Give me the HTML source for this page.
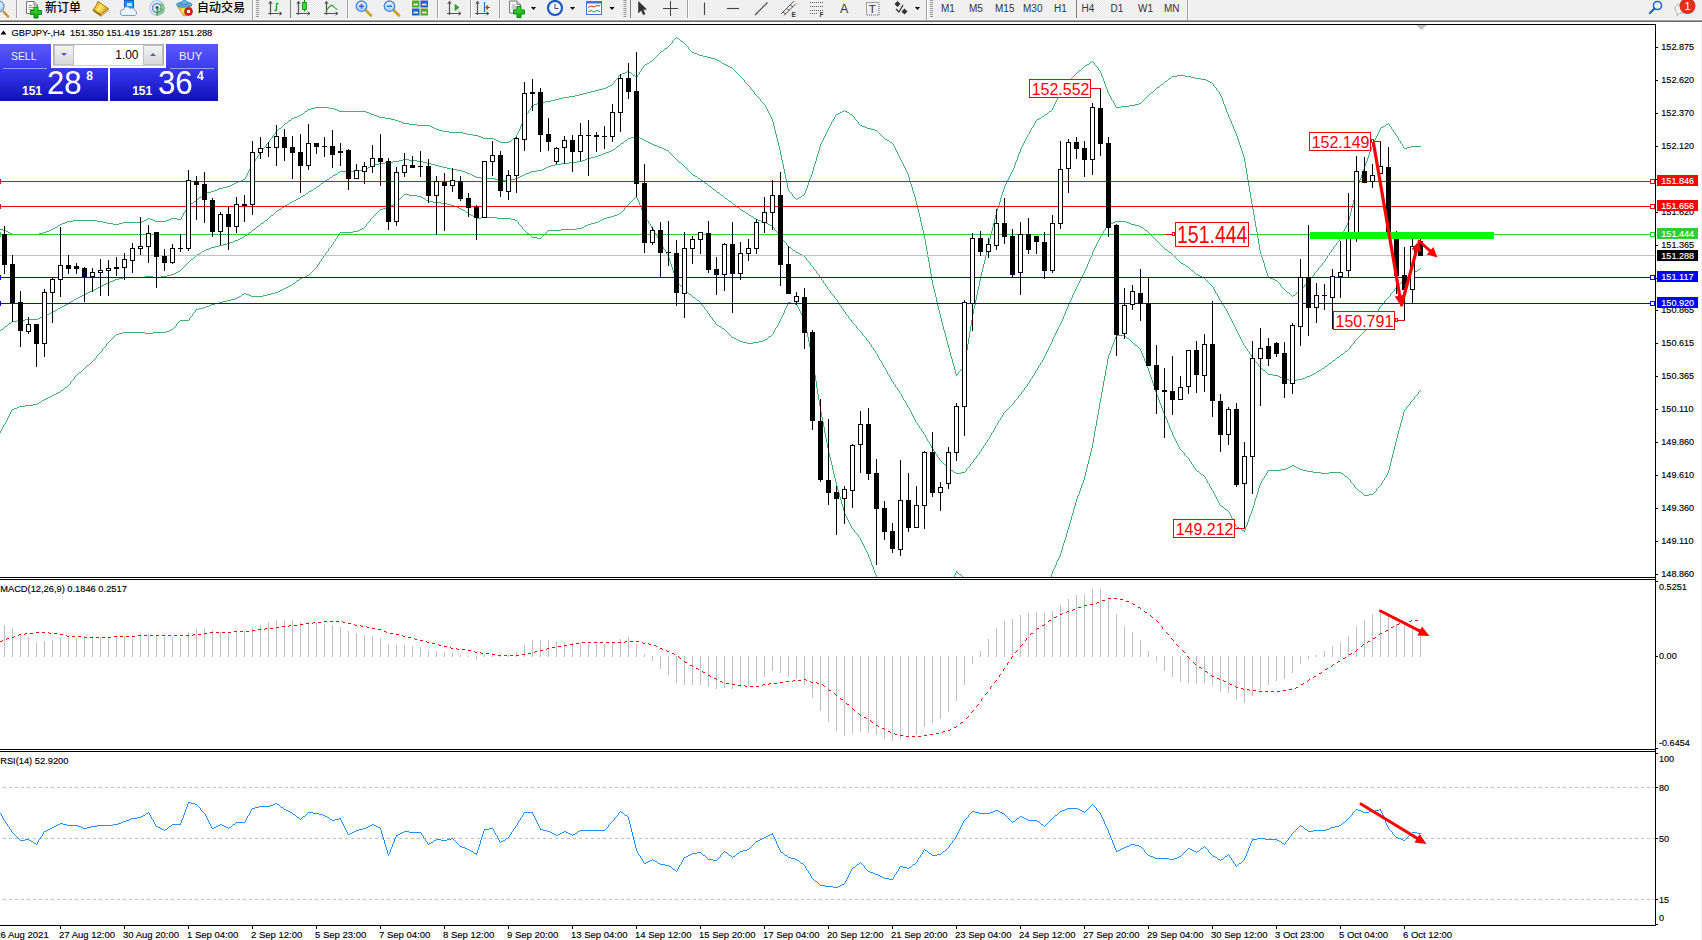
<!DOCTYPE html>
<html lang="zh"><head><meta charset="utf-8"><title>GBPJPY-,H4</title>
<style>
html,body{margin:0;padding:0;background:#fff;}
body{width:1702px;height:940px;position:relative;overflow:hidden;font-family:"Liberation Sans","Noto Sans CJK SC",sans-serif;}
#tb{position:absolute;left:0;top:0;width:1702px;height:20px;background:#f0f0f0;}
#tbl1{position:absolute;left:0;top:20px;width:1702px;height:1px;background:#a0a0a0;}
#tbl2{position:absolute;left:0;top:21px;width:1702px;height:1px;background:#696969;}
#tbl0{position:absolute;left:0;top:19px;width:1702px;height:1px;background:#f8f8f8;}
#redge{position:absolute;left:1701px;top:22px;width:1px;height:918px;background:#f0f0f0;}
.tt{position:absolute;top:0;font-size:12px;line-height:14px;color:#000;white-space:nowrap;}
.tf{position:absolute;top:3px;font-size:10.5px;line-height:12px;color:#222;white-space:nowrap;}
.sep{position:absolute;top:1px;width:1px;height:17px;background:#a0a0a0;}
.grip{position:absolute;top:2px;width:3px;height:16px;background:repeating-linear-gradient(#a8a8a8 0 1px,#f8f8f8 1px 2px);}
</style></head><body>
<svg width="1702" height="940" viewBox="0 0 1702 940" style="position:absolute;left:0;top:0"><defs><clipPath id="cmain"><rect x="0" y="25" width="1655" height="552"/></clipPath></defs>
<g clip-path="url(#cmain)" shape-rendering="crispEdges">
<path d="M1346.5 225v2M966.5 350v6M1255.5 221v6M993.5 223v4M1248.5 180v6M750.5 87v2M914.5 194v3M1249.5 186v6M1363.5 169v3M971.5 320v6M984.5 260v4M917.5 205v4M782.5 160v4M828.5 128v2M1371.5 147v3M927.5 251v6M253.5 162v2M816.5 157v4M1245.5 162v6M975.5 300v5M988.5 243v5M974.5 305v4M249.5 169v2M1004.5 186v3M1264.5 263v4M954.5 366v4M788.5 188v3M1231.5 121v3M778.5 142v4M1110.5 96v2M523.5 120v2M1362.5 172v3M187.5 206v2M965.5 356v6M1257.5 232v6M1341.5 235v2M895.5 148v2M1250.5 192v6M1241.5 148v3M970.5 326v6M1400.5 141v2M1251.5 198v6M183.5 213v2M1244.5 157v5M858.5 122v2M815.5 161v3M785.5 174v5M940.5 314v4M787.5 183v5M920.5 217v5M973.5 309v5M996.5 211v4M248.5 171v2M979.5 281v5M1353.5 200v4M913.5 191v3M926.5 245v6M1361.5 175v3M1012.5 170v2M1219.5 92v2M936.5 297v5M806.5 188v2M1340.5 237v2M991.5 231v4M1368.5 155v3M1259.5 244v6M814.5 164v3M519.5 129v2M182.5 215v2M1223.5 101v3M1260.5 250v4M1253.5 209v6M776.5 134v4M777.5 138v4M968.5 338v6M1263.5 260v3M953.5 363v3M1229.5 117v2M995.5 215v4M1331.5 250v2M1230.5 119v2M1365.5 163v3M1108.5 92v2M986.5 252v4M641.5 69v2M259.5 153v2M1109.5 94v2M1236.5 133v3M932.5 280v5M744.5 80v2M925.5 239v6M945.5 333v4M275.5 132v2M818.5 151v3M946.5 337v4M894.5 146v2M637.5 75v2M897.5 152v2M1240.5 145v3M1035.5 121v2M773.5 122v4M918.5 209v4M1389.5 124v2M783.5 164v5M990.5 235v4M1359.5 180v3M805.5 190v3M1094.5 63v2M1018.5 154v3M928.5 257v5M981.5 272v4M1007.5 180v2M1031.5 128v2M618.5 76v2M939.5 310v4M941.5 318v4M1356.5 189v3M911.5 184v3M526.5 114v2M994.5 219v4M1015.5 162v3M1364.5 166v3M817.5 154v3M769.5 113v2M977.5 290v5M1224.5 104v2M1351.5 208v4M1034.5 123v2M269.5 140v2M998.5 205v3M1103.5 78v3M825.5 134v2M1006.5 182v2M1228.5 114v3M930.5 268v6M1030.5 130v2M921.5 222v4M931.5 274v6M1107.5 89v3M812.5 171v3M1355.5 192v4M924.5 234v5M525.5 116v2M1235.5 131v2M1026.5 137v2M1213.5 84v2M1391.5 127v2M1022.5 145v2M937.5 302v4M997.5 208v3M903.5 164v2M824.5 136v2M1379.5 130v2M910.5 181v3M643.5 66v2M1254.5 215v6M820.5 144v3M1267.5 273v3M245.5 177v2M933.5 285v4M1268.5 276v2M1025.5 139v2M767.5 109v2M992.5 227v4M947.5 341v4M949.5 348v4M983.5 264v4M1021.5 147v2M950.5 352v4M774.5 126v4M1102.5 76v2M1378.5 132v2M942.5 322v4M943.5 326v4M819.5 147v4M1374.5 140v2M1011.5 172v2M1000.5 198v4M964.5 362v4M1393.5 130v2M518.5 131v2M1216.5 88v2M1098.5 68v2M969.5 332v6M531.5 106v2M905.5 168v2M1226.5 109v3M1348.5 220v3M1246.5 168v6M1063.5 88v2M833.5 119v2M1247.5 174v6M780.5 150v5M1266.5 270v3M765.5 105v2M1059.5 94v2M1373.5 142v2M829.5 126v2M1372.5 144v3M766.5 107v2M1352.5 204v4M1055.5 102v2M1403.5 146v2M530.5 108v2M262.5 149v2M1347.5 223v2M985.5 256v4M915.5 197v4M1058.5 96v2M522.5 122v2M1395.5 133v2M1054.5 104v2M1252.5 204v5M989.5 239v4M980.5 276v5M1232.5 124v2M944.5 330v3M1014.5 165v3M1280.5 284v2M1238.5 139v3M808.5 182v3M1258.5 238v6M896.5 150v2M899.5 156v2M1053.5 106v2M1350.5 212v4M1367.5 158v3M781.5 155v5M1375.5 138v2M1220.5 94v2M1325.5 259v2M1349.5 216v4M1358.5 183v3M831.5 122v2M1237.5 136v3M898.5 154v2M272.5 136v2M827.5 130v2M919.5 213v4M982.5 268v4M929.5 262v6M1357.5 186v3M1344.5 229v2M255.5 159v2M186.5 208v2M1243.5 154v3M1225.5 106v3M251.5 165v2M1104.5 81v3M786.5 179v4M922.5 226v4M247.5 173v2M1111.5 98v2M1256.5 227v5M521.5 124v2M1343.5 231v2M976.5 295v5M1339.5 239v2M250.5 167v2M907.5 172v2M1265.5 267v3M967.5 344v6M246.5 175v2M768.5 111v2M520.5 126v3M1242.5 151v3M1318.5 268v2M987.5 248v4M1333.5 247v2M792.5 194v2M639.5 72v2M1329.5 253v2M916.5 201v4M257.5 156v2M854.5 117v2M1397.5 136v2M1020.5 149v3M906.5 170v2M1261.5 254v3M1233.5 126v3M978.5 286v4M999.5 202v3M1304.5 285v2M1003.5 189v3M912.5 187v4M935.5 293v4M688.5 47v2M1222.5 98v3M952.5 359v4M1101.5 73v3M972.5 314v6M1002.5 192v3M1342.5 233v2M1010.5 174v2M900.5 158v2M517.5 133v2M1354.5 196v4M1001.5 195v3M1013.5 168v2M934.5 289v4M807.5 185v3M1009.5 176v2M1322.5 263v2M951.5 356v3M775.5 130v4M516.5 135v2M923.5 230v4M1366.5 161v2M1017.5 157v3M1113.5 101v2M760.5 99v2M1370.5 150v2M784.5 169v5M1008.5 178v2M823.5 138v2M909.5 177v4M956.5 374v2M770.5 115v2M826.5 132v2M1369.5 152v3M822.5 140v2M1027.5 135v2M1115.5 105v2M1023.5 143v2M185.5 210v2M1360.5 178v2M672.5 41v2M1380.5 128v2M181.5 217v2M908.5 174v3M1262.5 257v3M821.5 142v2M955.5 370v4M754.5 92v2M893.5 144v2M1327.5 256v2M1239.5 142v3M948.5 345v3M772.5 119v3M266.5 144v2M1061.5 91v2M1057.5 98v2M1310.5 278v2M1398.5 138v2M1033.5 125v2M1227.5 112v2M1005.5 184v2M528.5 111v2M1106.5 87v2M1029.5 132v2M1234.5 129v2M811.5 174v3M524.5 118v2M1056.5 100v2M902.5 162v2M1016.5 160v2M810.5 177v2M1024.5 141v2M1105.5 84v3M1377.5 134v2M809.5 179v3M901.5 160v2M938.5 306v4M1019.5 152v2M813.5 167v4M779.5 146v4M1376.5 136v2M1221.5 96v2M1402.5 144v2M1100.5 71v2M804.5 193v2M1065.5 85v2M958.5 372v2M1314.5 273v2M1114.5 103v2M1345.5 227v2M771.5 117v2M1052.5 108v2M835.5 115v2M1067.5 82v2M1336.5 243v2M834.5 117v2M830.5 124v2M904.5 166v2M614.5 81v2M962.5 367v2M664 49.5h1M689 49.5h1M282 126.5h1M430 126.5h2M862 126.5h3M1383 126.5h2M1390 126.5h1M303 113.5h1M369 113.5h2M527 113.5h1M838 113.5h2M849 113.5h1M1047 113.5h1M653 59.5h1M715 59.5h2M284 124.5h1M409 124.5h8M859 124.5h1M1386 124.5h2M315 107.5h14M1116 107.5h5M613 83.5h1M746 83.5h1M1163 83.5h1M1212 83.5h1M283 125.5h1M417 125.5h13M860 125.5h2M1385 125.5h1M291 119.5h1M391 119.5h4M855 119.5h1M1037 119.5h2M60 224.5h2M113 224.5h6M745 82.5h1M1164 82.5h1M1210 82.5h2M188 205.5h1M668 46.5h1M687 46.5h1M305 111.5h2M339 111.5h27M842 111.5h2M845 111.5h2M1049 111.5h2M219 188.5h4M297 116.5h2M377 116.5h2M853 116.5h1M1042 116.5h2M146 219.5h2M150 219.5h3M169 219.5h2M177 219.5h4M199 197.5h2M794 197.5h1M799 197.5h2M591 91.5h4M753 91.5h1M1153 91.5h1M1218 91.5h1M307 110.5h1M337 110.5h2M529 110.5h1M844 110.5h1M1051 110.5h1M478 136.5h3M882 136.5h1M65 222.5h2M103 222.5h4M123 222.5h19M636 77.5h1M741 77.5h1M1072 77.5h1M1171 77.5h1M1191 77.5h4M1121 106.5h8M264 147.5h1M1407 147.5h4M1290 294.5h1M1295 294.5h1M67 221.5h6M97 221.5h6M142 221.5h2M155 221.5h11M616 79.5h1M743 79.5h1M1070 79.5h1M1168 79.5h1M1201 79.5h5M734 70.5h1M1079 70.5h2M1099 70.5h1M289 120.5h2M395 120.5h3M856 120.5h1M1036 120.5h1M301 114.5h2M371 114.5h3M836 114.5h2M850 114.5h2M1045 114.5h2M270 139.5h1M494 139.5h2M512 139.5h1M885 139.5h2M304 112.5h1M366 112.5h3M840 112.5h2M847 112.5h2M1048 112.5h1M1291 295.5h1M1293 295.5h2M73 220.5h24M144 220.5h2M153 220.5h2M166 220.5h3M615 80.5h1M1069 80.5h1M1167 80.5h1M1206 80.5h2M58 225.5h2M265 146.5h1M1411 146.5h10M198 198.5h1M795 198.5h1M797 198.5h2M1282 287.5h1M1303 287.5h1M3 230.5h3M49 230.5h2M559 98.5h4M759 98.5h1M1145 98.5h1M603 88.5h3M1156 88.5h1M0 229.5h3M51 229.5h2M579 94.5h4M755 94.5h1M1149 94.5h1M241 180.5h2M644 65.5h1M726 65.5h2M1085 65.5h2M1095 65.5h1M1068 81.5h1M1165 81.5h2M1208 81.5h2M197 199.5h1M796 199.5h1M285 123.5h2M403 123.5h6M1388 123.5h1M610 85.5h2M748 85.5h1M1160 85.5h1M12 234.5h27M539 102.5h6M762 102.5h1M1141 102.5h1M311 108.5h4M329 108.5h5M660 52.5h1M692 52.5h2M288 121.5h1M398 121.5h3M832 121.5h1M857 121.5h1M449 132.5h14M878 132.5h1M1394 132.5h1M537 103.5h2M763 103.5h1M1139 103.5h2M627 71.5h2M640 71.5h1M735 71.5h1M1078 71.5h1M148 218.5h2M171 218.5h6M1287 292.5h2M1297 292.5h2M276 131.5h1M443 131.5h6M877 131.5h1M545 101.5h6M761 101.5h1M1142 101.5h1M267 143.5h1M892 143.5h1M1401 143.5h1M273 135.5h1M473 135.5h5M881 135.5h1M1396 135.5h1M563 97.5h6M758 97.5h1M1146 97.5h1M263 148.5h1M1404 148.5h3M635 76.5h1M740 76.5h1M1073 76.5h1M1172 76.5h5M1185 76.5h6M658 54.5h1M697 54.5h2M10 233.5h2M39 233.5h4M619 75.5h1M633 75.5h2M739 75.5h1M1074 75.5h1M1177 75.5h8M655 57.5h1M707 57.5h4M1279 283.5h1M1306 283.5h1M232 184.5h2M281 127.5h1M432 127.5h2M865 127.5h2M1032 127.5h1M1381 127.5h2M663 50.5h1M690 50.5h1M194 201.5h2M227 186.5h3M204 193.5h3M791 193.5h1M6 231.5h2M46 231.5h3M1334 246.5h1M534 104.5h3M764 104.5h1M1135 104.5h4M8 232.5h2M43 232.5h3M287 122.5h1M401 122.5h2M496 140.5h2M511 140.5h1M887 140.5h2M1399 140.5h1M1286 291.5h1M1299 291.5h1M279 128.5h2M434 128.5h2M867 128.5h4M608 86.5h2M749 86.5h1M1159 86.5h1M1214 86.5h1M243 179.5h2M622 73.5h3M631 73.5h1M737 73.5h1M1076 73.5h1M657 55.5h1M699 55.5h4M961 369.5h1M612 84.5h1M747 84.5h1M1066 84.5h1M1161 84.5h2M299 115.5h2M374 115.5h3M852 115.5h1M1044 115.5h1M278 129.5h1M436 129.5h3M871 129.5h4M1392 129.5h1M308 109.5h3M334 109.5h3M217 189.5h2M645 64.5h2M724 64.5h2M1087 64.5h2M681 41.5h2M575 95.5h4M756 95.5h1M1148 95.5h1M294 117.5h3M379 117.5h6M1041 117.5h1M656 56.5h1M703 56.5h4M268 142.5h1M500 142.5h9M890 142.5h2M650 61.5h2M719 61.5h2M1092 61.5h1M555 99.5h4M1144 99.5h1M271 138.5h1M483 138.5h11M513 138.5h2M884 138.5h1M261 151.5h1M292 118.5h2M385 118.5h6M1039 118.5h2M274 134.5h1M467 134.5h6M880 134.5h1M1028 134.5h1M481 137.5h2M515 137.5h1M883 137.5h1M463 133.5h4M879 133.5h1M1278 282.5h1M1307 282.5h1M1337 242.5h1M670 44.5h1M685 44.5h1M659 53.5h1M694 53.5h3M202 195.5h1M802 195.5h2M587 92.5h4M1151 92.5h2M1270 278.5h3M617 78.5h1M742 78.5h1M1071 78.5h1M1169 78.5h2M1195 78.5h6M238 181.5h3M252 164.5h1M211 191.5h3M789 191.5h1M595 90.5h4M752 90.5h1M1062 90.5h1M1154 90.5h1M1217 90.5h1M1275 280.5h2M1309 280.5h1M620 74.5h2M632 74.5h1M638 74.5h1M738 74.5h1M1075 74.5h1M654 58.5h1M711 58.5h4M277 130.5h1M439 130.5h4M875 130.5h2M57 226.5h1M673 40.5h1M680 40.5h1M675 38.5h1M677 38.5h2M1328 255.5h1M728 66.5h2M1084 66.5h1M1096 66.5h1M1313 275.5h1M583 93.5h4M1060 93.5h1M1150 93.5h1M730 67.5h2M1083 67.5h1M1097 67.5h1M647 63.5h2M722 63.5h2M1089 63.5h1M62 223.5h3M107 223.5h6M119 223.5h4M223 187.5h4M1277 281.5h1M1308 281.5h1M532 105.5h2M1129 105.5h6M1273 279.5h2M551 100.5h4M1112 100.5h1M1143 100.5h1M625 72.5h2M629 72.5h2M736 72.5h1M1077 72.5h1M1289 293.5h1M1296 293.5h1M569 96.5h6M757 96.5h1M1147 96.5h1M236 182.5h2M642 68.5h1M732 68.5h1M1082 68.5h1M1285 290.5h1M1300 290.5h1M1281 286.5h1M1316 271.5h1M599 89.5h4M751 89.5h1M1155 89.5h1M661 51.5h2M691 51.5h1M1324 261.5h1M193 202.5h1M207 192.5h4M790 192.5h1M665 48.5h2M652 60.5h1M717 60.5h2M189 204.5h2M1319 267.5h1M498 141.5h2M509 141.5h2M889 141.5h1M649 62.5h1M721 62.5h1M1090 62.5h2M1093 62.5h1M55 227.5h2M963 366.5h1M1269 277.5h1M1311 277.5h1M214 190.5h3M258 155.5h1M683 42.5h1M606 87.5h2M1064 87.5h1M1157 87.5h2M1215 87.5h1M667 47.5h1M1283 288.5h1M1302 288.5h1M674 39.5h1M679 39.5h1M191 203.5h2M234 183.5h2M254 161.5h1M1321 265.5h1M1330 252.5h1M733 69.5h1M1081 69.5h1M957 374.5h1M230 185.5h2M1305 284.5h1M53 228.5h2M260 152.5h1M960 370.5h1M1317 270.5h1M669 45.5h1M686 45.5h1M671 43.5h1M684 43.5h1M1312 276.5h1M201 196.5h1M793 196.5h1M801 196.5h1M256 158.5h1M1284 289.5h1M1301 289.5h1M1320 266.5h1M1323 262.5h1M1332 249.5h1M1335 245.5h1M1315 272.5h1M959 371.5h1M1326 258.5h1M1338 241.5h1M203 194.5h1M196 200.5h1M676 37.5h1M1292 296.5h1M184 212.5h1" fill="none" stroke="#3cb371" stroke-width="1"/>
<path d="M1098.5 240v2M1229.5 315v2M1018.5 396v2M1094.5 248v2M879.5 358v2M1083.5 273v2M1237.5 331v2M1218.5 296v2M871.5 345v2M819.5 275v2M889.5 375v2M1247.5 349v2M834.5 296v2M1090.5 257v2M848.5 316v2M1228.5 313v2M778.5 233v2M1238.5 333v2M881.5 361v2M981.5 449v2M1239.5 335v2M782.5 238v2M1029.5 381v2M1101.5 234v2M869.5 342v2M873.5 348v2M1048.5 348v2M1060.5 323v2M890.5 377v2M821.5 278v2M887.5 372v2M1249.5 352v2M1063.5 316v3M912.5 414v2M1087.5 264v3M1047.5 350v2M1059.5 325v2M1071.5 298v2M1095.5 246v2M933.5 449v2M1043.5 358v2M937.5 455v2M901.5 394v2M1390.5 294v2M1375.5 314v2M1230.5 317v2M1233.5 323v2M1082.5 275v2M926.5 437v2M1046.5 352v2M1058.5 327v2M1070.5 300v2M994.5 428v2M1107.5 225v2M1042.5 360v2M1078.5 283v2M990.5 435v2M1038.5 366v2M1222.5 303v2M1365.5 329v2M935.5 452v2M786.5 243v2M816.5 271v2M830.5 291v2M1053.5 337v2M1065.5 311v3M1077.5 285v2M1089.5 259v3M989.5 437v2M1231.5 319v2M1368.5 325v2M985.5 443v2M1032.5 376v2M1232.5 321v2M976.5 456v2M1051.5 342v2M1024.5 388v2M1224.5 306v2M1000.5 418v2M1027.5 384v2M891.5 379v2M1378.5 309v2M883.5 365v2M995.5 426v2M1394.5 289v2M1055.5 333v2M1067.5 307v2M1374.5 316v2M991.5 433v2M1226.5 309v2M806.5 258v2M893.5 382v2M1214.5 289v2M1251.5 355v2M1054.5 335v2M1066.5 309v2M1373.5 318v2M1037.5 368v2M914.5 418v2M1074.5 291v2M885.5 368v2M1240.5 337v2M903.5 398v2M1073.5 293v2M1097.5 242v2M895.5 385v2M837.5 300v2M851.5 320v2M913.5 416v2M1072.5 295v3M1096.5 244v2M1379.5 307v2M905.5 401v2M810.5 263v2M930.5 444v2M897.5 388v2M839.5 303v2M1350.5 346v2M1086.5 267v2M970.5 464v2M925.5 435v2M973.5 460v2M1221.5 301v2M856.5 326v2M1384.5 301v2M1085.5 269v2M774.5 228v2M1069.5 302v2M1081.5 277v2M1093.5 250v2M939.5 458v2M1213.5 287v2M1241.5 339v2M1245.5 346v2M1092.5 252v3M1215.5 291v2M1354.5 341v2M1050.5 344v2M915.5 420v2M882.5 363v2M1243.5 343v2M1021.5 392v2M1002.5 415v2M907.5 405v2M1061.5 321v2M1049.5 346v2M998.5 421v2M823.5 281v2M899.5 391v2M841.5 306v2M917.5 423v2M1084.5 271v2M1044.5 356v2M1068.5 304v3M1040.5 363v2M906.5 403v2M909.5 408v2M862.5 333v2M1234.5 325v2M927.5 439v2M825.5 284v2M843.5 309v2M1100.5 236v2M1035.5 371v2M919.5 426v2M983.5 446v2M979.5 452v2M1103.5 231v2M911.5 412v2M1062.5 319v2M1236.5 329v2M1014.5 401v2M929.5 442v2M813.5 267v2M827.5 287v2M1254.5 359v2M1258.5 364v2M845.5 312v2M997.5 423v2M1057.5 329v2M1045.5 354v2M993.5 430v2M1377.5 311v2M1217.5 294v2M866.5 338v2M1056.5 331v2M1242.5 341v2M1080.5 279v2M1105.5 228v2M1052.5 339v3M1076.5 287v2M1227.5 311v2M1079.5 281v2M1091.5 255v2M1219.5 298v2M1003.5 413v2M1075.5 289v2M987.5 440v2M1034.5 373v2M1030.5 379v2M886.5 370v2M875.5 351v2M966.5 469v2M878.5 356v2M921.5 429v2M910.5 410v2M877.5 354v2M1235.5 327v2M931.5 446v2M902.5 396v2M1064.5 314v2M1088.5 262v2M1371.5 321v2M923.5 432v2M1099.5 238v2M1 329.5h2M858 329.5h1M1250 354.5h1M1341 354.5h2M956 473.5h5M171 274.5h3M818 274.5h1M1196 274.5h2M1411 274.5h1M74 299.5h2M836 299.5h1M1386 299.5h1M123 277.5h22M153 277.5h8M820 277.5h1M1202 277.5h2M1407 277.5h1M366 168.5h2M447 168.5h4M544 168.5h2M686 168.5h1M606 152.5h3M669 152.5h1M325 180.5h2M499 180.5h12M701 180.5h2M1261 368.5h1M1322 368.5h2M335 174.5h2M470 174.5h2M524 174.5h2M692 174.5h1M12 321.5h5M379 163.5h6M427 163.5h4M561 163.5h8M681 163.5h1M102 285.5h2M1211 285.5h1M1398 285.5h1M631 137.5h4M638 137.5h2M951 470.5h2M300 197.5h1M724 197.5h1M340 171.5h19M462 171.5h3M531 171.5h6M689 171.5h1M372 165.5h3M435 165.5h4M551 165.5h4M683 165.5h1M296 199.5h2M727 199.5h1M82 295.5h2M833 295.5h1M17 320.5h8M1372 320.5h1M627 139.5h1M642 139.5h2M867 340.5h1M1355 340.5h1M9 323.5h2M853 323.5h1M1370 323.5h1M370 166.5h2M439 166.5h4M548 166.5h3M684 166.5h1M319 185.5h1M708 185.5h1M337 173.5h1M467 173.5h3M526 173.5h3M691 173.5h1M947 467.5h1M968 467.5h1M1244 345.5h1M1351 345.5h1M385 162.5h8M423 162.5h4M569 162.5h8M679 162.5h2M936 454.5h1M978 454.5h1M223 244.5h4M1160 244.5h1M868 341.5h1M204 250.5h2M793 250.5h2M1167 250.5h1M202 251.5h2M795 251.5h1M1168 251.5h1M317 186.5h2M709 186.5h2M948 468.5h1M967 468.5h1M145 276.5h8M161 276.5h6M1200 276.5h2M1408 276.5h1M88 292.5h2M1392 292.5h1M888 374.5h1M1268 374.5h5M1312 374.5h2M38 318.5h2M849 318.5h1M598 155.5h3M672 155.5h1M261 223.5h2M766 223.5h2M1110 223.5h3M1129 223.5h2M290 202.5h2M731 202.5h1M333 175.5h2M472 175.5h2M522 175.5h2M693 175.5h2M277 210.5h2M741 210.5h2M282 207.5h2M737 207.5h2M338 172.5h2M465 172.5h2M529 172.5h2M690 172.5h1M329 178.5h1M481 178.5h14M515 178.5h3M698 178.5h2M194 257.5h1M805 257.5h1M1175 257.5h1M1284 379.5h5M1297 379.5h5M368 167.5h2M443 167.5h4M546 167.5h2M685 167.5h1M375 164.5h4M431 164.5h4M555 164.5h6M682 164.5h1M1246 348.5h1M1349 348.5h1M46 314.5h3M846 314.5h1M230 242.5h3M785 242.5h1M1158 242.5h1M1267 373.5h1M1314 373.5h2M178 271.5h2M1193 271.5h1M1415 271.5h2M25 319.5h13M850 319.5h1M5 326.5h2M1248 351.5h1M1345 351.5h2M1289 380.5h8M211 247.5h4M789 247.5h2M1163 247.5h1M191 259.5h2M1177 259.5h1M115 279.5h4M1205 279.5h1M1404 279.5h1M1039 365.5h1M1327 365.5h1M264 221.5h1M761 221.5h2M1115 221.5h11M249 232.5h2M777 232.5h1M1148 232.5h1M66 304.5h2M1382 304.5h1M58 308.5h2M842 308.5h1M1225 308.5h1M332 176.5h1M474 176.5h2M520 176.5h2M695 176.5h2M1036 370.5h1M1263 370.5h2M1319 370.5h2M182 268.5h1M1189 268.5h1M1420 268.5h1M324 181.5h1M703 181.5h1M206 249.5h3M792 249.5h1M1165 249.5h2M190 260.5h1M807 260.5h1M1178 260.5h1M263 222.5h1M763 222.5h3M1113 222.5h2M1126 222.5h3M601 154.5h2M671 154.5h1M363 169.5h3M451 169.5h6M542 169.5h2M687 169.5h1M1266 372.5h1M1316 372.5h1M1357 338.5h1M78 297.5h2M1388 297.5h1M393 161.5h6M417 161.5h6M577 161.5h5M678 161.5h1M330 177.5h2M476 177.5h5M518 177.5h2M697 177.5h1M219 245.5h4M787 245.5h1M1161 245.5h1M180 270.5h1M815 270.5h1M1191 270.5h2M1417 270.5h1M603 153.5h3M670 153.5h1M242 237.5h2M781 237.5h1M1153 237.5h1M399 160.5h4M409 160.5h8M582 160.5h3M677 160.5h1M76 298.5h2M835 298.5h1M1387 298.5h1M238 239.5h2M1155 239.5h1M248 233.5h1M1102 233.5h1M1149 233.5h1M167 275.5h4M1198 275.5h2M1409 275.5h2M591 157.5h4M674 157.5h1M108 282.5h2M1208 282.5h1M1401 282.5h1M84 294.5h2M832 294.5h1M1010 406.5h1M623 142.5h1M648 142.5h2M1257 363.5h1M1329 363.5h2M306 193.5h2M719 193.5h1M628 138.5h3M640 138.5h2M245 235.5h2M779 235.5h1M1151 235.5h1M251 231.5h1M776 231.5h1M1147 231.5h1M227 243.5h3M1159 243.5h1M359 170.5h4M457 170.5h5M537 170.5h5M688 170.5h1M98 287.5h2M1396 287.5h1M301 196.5h2M723 196.5h1M260 224.5h1M768 224.5h2M1108 224.5h2M1131 224.5h4M271 215.5h2M749 215.5h2M174 273.5h2M817 273.5h1M1195 273.5h1M1412 273.5h1M1033 375.5h1M1273 375.5h5M1310 375.5h2M215 246.5h4M788 246.5h1M1162 246.5h1M327 179.5h2M495 179.5h4M511 179.5h4M700 179.5h1M403 159.5h6M585 159.5h2M676 159.5h1M323 182.5h1M704 182.5h1M625 140.5h2M644 140.5h2M189 261.5h1M808 261.5h1M1179 261.5h1M253 229.5h2M1144 229.5h1M62 306.5h2M1380 306.5h1M0 330.5h1M859 330.5h1M53 311.5h2M844 311.5h1M110 281.5h3M1207 281.5h1M1402 281.5h1M90 291.5h2M1393 291.5h1M1265 371.5h1M1317 371.5h2M269 217.5h1M753 217.5h1M183 267.5h1M1188 267.5h1M257 226.5h2M772 226.5h1M1139 226.5h2M860 331.5h1M1364 331.5h1M954 472.5h2M961 472.5h4M197 254.5h2M800 254.5h2M1172 254.5h1M313 189.5h1M713 189.5h2M1262 369.5h1M1321 369.5h1M892 381.5h1M870 344.5h1M1352 344.5h1M305 194.5h1M720 194.5h1M292 201.5h2M729 201.5h2M621 143.5h2M650 143.5h2M255 228.5h1M1143 228.5h1M874 350.5h1M1347 350.5h1M80 296.5h2M1389 296.5h1M1031 378.5h1M1282 378.5h2M1302 378.5h3M259 225.5h1M770 225.5h2M1135 225.5h4M613 149.5h2M664 149.5h2M1361 334.5h1M199 253.5h2M798 253.5h2M1171 253.5h1M201 252.5h1M796 252.5h2M1169 252.5h2M113 280.5h2M822 280.5h1M1206 280.5h1M1403 280.5h1M119 278.5h4M1204 278.5h1M1405 278.5h2M617 146.5h2M657 146.5h2M616 147.5h1M659 147.5h3M11 322.5h1M852 322.5h1M184 266.5h1M812 266.5h1M1186 266.5h2M196 255.5h1M802 255.5h2M1173 255.5h1M609 151.5h2M668 151.5h1M587 158.5h4M675 158.5h1M620 144.5h1M652 144.5h2M1005 411.5h1M193 258.5h1M1176 258.5h1M942 462.5h1M972 462.5h1M1278 376.5h2M1307 376.5h3M287 204.5h2M733 204.5h2M268 218.5h1M754 218.5h2M104 284.5h2M1210 284.5h1M1399 284.5h1M49 313.5h2M1376 313.5h1M1280 377.5h2M1305 377.5h2M273 214.5h1M748 214.5h1M943 463.5h1M971 463.5h1M267 219.5h1M756 219.5h2M233 241.5h2M784 241.5h1M1157 241.5h1M311 190.5h2M715 190.5h1M619 145.5h1M654 145.5h3M308 192.5h1M717 192.5h2M1340 355.5h1M1259 366.5h1M1325 366.5h2M309 191.5h2M716 191.5h1M635 136.5h3M896 387.5h1M1025 387.5h1M265 220.5h2M758 220.5h3M946 466.5h1M969 466.5h1M289 203.5h1M732 203.5h1M4 327.5h1M1367 327.5h1M949 469.5h2M281 208.5h1M739 208.5h1M314 188.5h2M712 188.5h1M884 367.5h1M1260 367.5h1M1324 367.5h1M615 148.5h1M662 148.5h2M880 360.5h1M1333 360.5h2M1017 398.5h1M1020 394.5h1M186 264.5h1M1183 264.5h2M73 300.5h1M1220 300.5h1M1385 300.5h1M916 422.5h1M953 471.5h1M965 471.5h1M932 448.5h1M982 448.5h1M181 269.5h1M814 269.5h1M1190 269.5h1M1418 269.5h2M1012 404.5h1M100 286.5h2M826 286.5h1M1212 286.5h1M1397 286.5h1M188 262.5h1M809 262.5h1M1180 262.5h1M176 272.5h2M1194 272.5h1M1413 272.5h2M1344 352.5h1M595 156.5h3M673 156.5h1M86 293.5h2M831 293.5h1M1216 293.5h1M1391 293.5h1M984 445.5h1M8 324.5h1M854 324.5h1M1369 324.5h1M1348 349.5h1M285 205.5h2M735 205.5h1M1252 357.5h1M1337 357.5h2M276 211.5h1M743 211.5h2M64 305.5h2M840 305.5h1M1223 305.5h1M1381 305.5h1M303 195.5h2M721 195.5h2M294 200.5h2M728 200.5h1M270 216.5h1M751 216.5h2M185 265.5h1M811 265.5h1M1185 265.5h1M240 238.5h2M1154 238.5h1M920 428.5h1M69 302.5h2M838 302.5h1M60 307.5h2M247 234.5h1M1150 234.5h1M298 198.5h2M725 198.5h2M1356 339.5h1M611 150.5h2M666 150.5h2M274 213.5h1M746 213.5h2M934 451.5h1M980 451.5h1M252 230.5h1M775 230.5h1M1104 230.5h1M1145 230.5h2M96 288.5h2M1395 288.5h1M872 347.5h1M279 209.5h2M740 209.5h1M92 290.5h2M829 290.5h1M876 353.5h1M1343 353.5h1M898 390.5h1M1023 390.5h1M106 283.5h2M824 283.5h1M1209 283.5h1M1400 283.5h1M1041 362.5h1M1256 362.5h1M1331 362.5h1M235 240.5h3M783 240.5h1M1156 240.5h1M904 400.5h1M1015 400.5h1M57 309.5h1M861 332.5h1M1363 332.5h1M1335 359.5h1M321 183.5h2M705 183.5h2M894 384.5h1M94 289.5h2M828 289.5h1M945 465.5h1M624 141.5h1M646 141.5h2M244 236.5h1M780 236.5h1M1152 236.5h1M1026 386.5h1M195 256.5h1M804 256.5h1M1174 256.5h1M1007 409.5h1M275 212.5h1M745 212.5h1M918 425.5h1M996 425.5h1M209 248.5h2M791 248.5h1M1164 248.5h1M44 315.5h2M847 315.5h1M1339 356.5h1M3 328.5h1M857 328.5h1M1366 328.5h1M908 407.5h1M1009 407.5h1M944 464.5h1M256 227.5h1M773 227.5h1M1106 227.5h1M1141 227.5h2M71 301.5h2M865 337.5h1M1358 337.5h1M1255 361.5h1M1332 361.5h1M922 431.5h1M40 317.5h2M974 459.5h1M900 393.5h1M187 263.5h1M1181 263.5h2M55 310.5h2M864 336.5h1M1359 336.5h1M1001 417.5h1M928 441.5h1M1353 343.5h1M863 335.5h1M1360 335.5h1M986 442.5h1M1022 391.5h1M51 312.5h2M316 187.5h1M711 187.5h1M924 434.5h1M977 455.5h1M1028 383.5h1M1253 358.5h1M1336 358.5h1M42 316.5h2M1013 403.5h1M1004 412.5h1M7 325.5h1M855 325.5h1M284 206.5h1M736 206.5h1M320 184.5h1M707 184.5h1M1016 399.5h1M938 457.5h1M1008 408.5h1M1328 364.5h1M992 432.5h1M68 303.5h1M1383 303.5h1M1011 405.5h1M988 439.5h1M1019 395.5h1M941 461.5h1M999 420.5h1M1006 410.5h1M975 458.5h1M1362 333.5h1M940 460.5h1" fill="none" stroke="#3cb371" stroke-width="1"/>
<path d="M873.5 567v3M1101.5 392v6M1051.5 574v3M1165.5 416v2M1089.5 456v4M1088.5 460v4M1079.5 491v3M1213.5 491v2M1106.5 365v5M814.5 369v6M661.5 243v2M1246.5 525v2M662.5 245v2M807.5 332v5M833.5 470v4M665.5 250v2M851.5 526v2M1172.5 432v3M854.5 530v2M781.5 317v2M1389.5 466v4M836.5 482v4M1076.5 499v3M366.5 224v2M672.5 267v3M1092.5 443v5M1179.5 447v2M1084.5 476v4M777.5 325v2M675.5 276v3M1097.5 415v5M1083.5 480v3M1205.5 477v2M803.5 317v2M650.5 224v2M829.5 453v4M653.5 229v2M820.5 406v6M773.5 332v2M813.5 363v6M804.5 319v3M830.5 457v4M1258.5 488v4M654.5 231v2M1071.5 516v4M624.5 208v2M1144.5 358v3M955.5 573v2M1245.5 527v3M1105.5 370v6M810.5 347v5M1075.5 502v4M865.5 548v2M812.5 357v6M1154.5 386v3M642.5 210v2M1082.5 483v2M839.5 493v4M643.5 212v2M1249.5 516v3M871.5 562v3M704.5 307v2M1257.5 492v3M1164.5 413v3M1215.5 495v2M663.5 247v2M822.5 417v5M1070.5 520v3M849.5 522v2M815.5 375v6M954.5 575v2M832.5 465v5M1099.5 403v6M321.5 259v2M816.5 381v7M1230.5 514v2M1087.5 464v4M1233.5 520v2M670.5 261v3M671.5 264v3M1386.5 475v2M1178.5 445v2M1073.5 509v4M828.5 448v5M1090.5 452v4M1207.5 481v2M1382.5 481v2M102.5 349v2M1108.5 355v4M786.5 306v2M1391.5 458v4M845.5 514v2M1149.5 371v3M1167.5 420v3M824.5 427v6M1085.5 472v4M1174.5 437v2M825.5 433v5M818.5 394v6M863.5 544v2M1112.5 345v2M866.5 550v2M811.5 352v5M798.5 307v2M8.5 416v2M870.5 559v3M1381.5 483v2M821.5 412v5M831.5 461v4M1410.5 402v2M1231.5 516v2M1060.5 553v3M1232.5 518v2M669.5 258v3M1098.5 409v6M319.5 262v2M1111.5 347v3M827.5 443v5M1155.5 389v3M778.5 323v2M1184.5 453v2M7.5 418v2M1195.5 468v2M1072.5 513v3M1159.5 400v3M844.5 511v3M3.5 425v2M370.5 219v2M1166.5 418v2M1059.5 556v2M1404.5 410v2M1173.5 435v2M1110.5 350v3M797.5 305v2M676.5 279v2M1102.5 387v5M875.5 573v2M712.5 318v2M806.5 327v5M785.5 308v2M96.5 356v2M1114.5 339v3M2.5 427v2M1396.5 438v4M1058.5 558v2M1252.5 508v3M1151.5 377v3M826.5 438v5M639.5 202v3M636.5 196v2M1074.5 506v3M195.5 310v2M1091.5 448v4M1160.5 403v2M646.5 218v2M1161.5 405v3M1062.5 546v4M325.5 253v2M667.5 254v2M1171.5 430v2M1104.5 376v5M106.5 344v2M1261.5 481v2M333.5 242v2M1053.5 569v2M1052.5 571v3M805.5 322v5M189.5 318v2M1248.5 519v3M1061.5 550v3M1095.5 426v5M1255.5 498v3M1146.5 363v3M1078.5 494v2M782.5 315v2M637.5 198v2M11.5 410v2M1264.5 476v2M1403.5 412v4M638.5 200v2M838.5 490v3M1260.5 483v2M644.5 214v2M841.5 500v4M1414.5 397v2M1217.5 499v2M1398.5 430v4M834.5 474v4M666.5 252v2M1406.5 407v2M1064.5 540v3M1393.5 450v4M518.5 222v2M1206.5 479v2M655.5 233v2M1162.5 408v3M658.5 238v2M847.5 518v2M1145.5 361v2M1169.5 425v3M339.5 233v2M817.5 388v6M837.5 486v4M335.5 239v2M788.5 302v2M1055.5 565v2M872.5 565v2M1401.5 420v3M823.5 422v5M1234.5 522v2M1266.5 473v2M1067.5 530v3M819.5 400v6M682.5 287v2M1400.5 423v4M846.5 516v2M1168.5 423v2M1150.5 374v3M1113.5 342v3M1395.5 442v4M867.5 552v2M317.5 265v2M9.5 414v2M1189.5 459v2M802.5 315v2M707.5 311v2M1390.5 462v4M1077.5 496v3M1103.5 381v6M1418.5 392v2M1156.5 392v3M1259.5 485v3M1094.5 431v6M808.5 337v5M800.5 311v2M1251.5 511v3M709.5 314v2M1107.5 359v6M1141.5 351v2M956.5 571v2M1148.5 368v3M858.5 535v2M1093.5 437v6M1388.5 470v3M1054.5 567v2M1096.5 420v6M1384.5 478v2M784.5 310v3M1219.5 503v2M1216.5 497v2M668.5 256v2M176.5 324v2M1387.5 473v2M678.5 282v2M1140.5 349v2M1100.5 398v5M783.5 313v2M860.5 538v2M645.5 216v2M648.5 221v2M874.5 570v3M1218.5 501v2M74.5 377v2M1081.5 485v3M1210.5 486v2M1163.5 411v2M659.5 240v2M848.5 520v2M1397.5 434v4M869.5 557v2M192.5 314v2M1063.5 543v3M1191.5 462v2M1080.5 488v3M323.5 256v2M1254.5 501v4M1235.5 524v2M10.5 412v2M1158.5 397v3M843.5 507v4M1209.5 484v2M657.5 236v2M809.5 342v5M780.5 319v2M1175.5 439v2M1066.5 533v4M674.5 273v3M868.5 554v3M799.5 309v2M1193.5 465v2M1399.5 427v3M1143.5 356v2M1244.5 530v2M1057.5 560v2M1153.5 383v3M779.5 321v2M1394.5 446v4M641.5 207v3M1157.5 395v2M775.5 328v2M842.5 504v3M1069.5 523v4M0.5 431v2M1086.5 468v4M835.5 478v4M1056.5 562v3M1177.5 443v2M673.5 270v3M1402.5 416v4M801.5 313v2M328.5 249v2M1115.5 337v2M862.5 542v2M1152.5 380v3M1350.5 480v2M640.5 205v2M1250.5 514v2M331.5 245v2M522.5 227v2M1392.5 454v4M876.5 575v2M1262.5 479v2M701.5 303v2M6.5 420v2M715.5 322v2M1147.5 366v2M850.5 524v2M1253.5 505v3M1109.5 353v2M5.5 422v2M1.5 429v2M337.5 236v2M1065.5 537v3M774.5 330v2M787.5 304v2M1142.5 353v3M1211.5 488v2M1214.5 493v2M1116.5 335v2M1256.5 495v3M1170.5 428v2M1354.5 485v2M651.5 226v2M1247.5 522v3M1267.5 471v2M1068.5 527v3M840.5 497v3M1376.5 489v2M1176.5 441v2M864.5 546v2M861.5 540v2M1229.5 512v2M70.5 382v2M1220 505.5h1M108 342.5h1M743 342.5h4M753 342.5h6M1132 342.5h1M112 338.5h1M734 338.5h2M767 338.5h1M1127 338.5h2M403 195.5h1M409 195.5h8M1286 468.5h2M1298 468.5h2M1356 488.5h1M1377 488.5h1M716 324.5h1M87 365.5h2M123 332.5h22M153 332.5h13M727 332.5h1M292 284.5h1M679 284.5h1M235 298.5h2M695 298.5h1M1201 474.5h2M1343 474.5h1M111 339.5h1M736 339.5h2M765 339.5h2M1129 339.5h1M244 293.5h2M271 293.5h4M688 293.5h1M215 303.5h4M791 303.5h4M119 333.5h4M145 333.5h8M728 333.5h1M290 285.5h2M680 285.5h1M362 228.5h2M577 228.5h5M652 228.5h1M372 217.5h1M474 217.5h2M481 217.5h16M607 217.5h4M1363 494.5h1M1369 494.5h4M376 213.5h1M468 213.5h1M619 213.5h2M1199 472.5h1M1313 472.5h8M1329 472.5h12M394 203.5h2M441 203.5h6M629 203.5h1M1187 457.5h1M371 218.5h1M476 218.5h5M497 218.5h14M604 218.5h3M380 209.5h3M461 209.5h2M242 294.5h2M246 294.5h3M267 294.5h4M689 294.5h2M278 291.5h2M685 291.5h2M515 220.5h2M600 220.5h2M647 220.5h1M223 301.5h4M699 301.5h1M169 330.5h2M725 330.5h1M41 401.5h1M1411 401.5h1M404 194.5h5M1200 473.5h1M1321 473.5h8M1341 473.5h2M519 224.5h1M588 224.5h3M275 292.5h3M687 292.5h1M529 234.5h1M544 234.5h1M374 215.5h1M471 215.5h2M614 215.5h3M241 295.5h1M249 295.5h2M263 295.5h4M691 295.5h1M37 403.5h2M100 352.5h1M107 343.5h1M747 343.5h6M1133 343.5h1M227 300.5h4M697 300.5h2M115 335.5h1M730 335.5h1M771 335.5h1M1117 335.5h8M1383 480.5h1M1281 469.5h5M1300 469.5h3M377 212.5h1M466 212.5h2M621 212.5h1M239 296.5h2M251 296.5h12M692 296.5h1M1197 471.5h2M1307 471.5h6M17 407.5h2M296 281.5h1M677 281.5h1M211 304.5h4M795 304.5h2M1196 470.5h1M1268 470.5h13M1303 470.5h4M378 211.5h1M465 211.5h1M622 211.5h1M196 309.5h3M705 309.5h1M387 207.5h2M457 207.5h2M625 207.5h1M360 229.5h2M523 229.5h1M561 229.5h16M95 358.5h1M60 391.5h1M1419 391.5h1M1364 495.5h5M532 237.5h5M541 237.5h1M1180 449.5h1M310 273.5h1M1194 467.5h1M1288 467.5h2M1296 467.5h2M393 204.5h1M447 204.5h4M628 204.5h1M64 388.5h1M1212 490.5h1M1358 490.5h1M56 393.5h2M340 232.5h13M526 232.5h1M546 232.5h1M1186 456.5h1M353 231.5h5M525 231.5h1M547 231.5h1M68 385.5h1M391 205.5h2M451 205.5h3M627 205.5h1M1204 476.5h1M1345 476.5h2M318 264.5h1M103 348.5h1M1139 348.5h1M373 216.5h1M473 216.5h1M611 216.5h3M1292 465.5h2M330 247.5h1M199 308.5h4M365 226.5h1M521 226.5h1M584 226.5h2M511 219.5h4M602 219.5h2M400 198.5h1M423 198.5h2M634 198.5h1M358 230.5h2M524 230.5h1M548 230.5h13M379 210.5h1M463 210.5h2M623 210.5h1M76 375.5h1M1208 483.5h1M1352 483.5h1M12 409.5h2M1405 409.5h1M110 340.5h1M738 340.5h2M763 340.5h2M1130 340.5h1M206 306.5h3M703 306.5h1M293 283.5h2M1353 484.5h1M369 221.5h1M517 221.5h1M598 221.5h2M180 320.5h9M713 320.5h1M191 316.5h1M710 316.5h1M664 249.5h1M396 202.5h1M433 202.5h8M630 202.5h1M297 280.5h2M52 395.5h2M1416 395.5h1M383 208.5h4M459 208.5h2M660 242.5h1M237 297.5h2M693 297.5h2M853 529.5h1M1241 529.5h1M25 405.5h8M1408 405.5h1M368 222.5h1M595 222.5h3M367 223.5h1M591 223.5h4M649 223.5h1M1379 486.5h1M1359 491.5h2M1375 491.5h1M959 574.5h2M90 363.5h1M314 269.5h1M1225 509.5h2M79 372.5h2M174 327.5h1M721 327.5h1M776 327.5h1M83 369.5h1M531 236.5h1M542 236.5h1M171 329.5h2M724 329.5h1M194 312.5h1M113 337.5h1M732 337.5h2M768 337.5h1M1126 337.5h1M166 331.5h3M726 331.5h1M114 336.5h1M731 336.5h1M769 336.5h2M1125 336.5h1M193 313.5h1M708 313.5h1M175 326.5h1M719 326.5h2M116 334.5h3M729 334.5h1M772 334.5h1M958 573.5h1M302 277.5h3M71 381.5h1M398 200.5h1M426 200.5h2M632 200.5h1M48 397.5h2M286 287.5h2M338 235.5h1M530 235.5h1M543 235.5h1M656 235.5h1M520 225.5h1M586 225.5h2M39 402.5h2M527 233.5h2M545 233.5h1M231 299.5h4M696 299.5h1M1237 527.5h2M1190 461.5h1M397 201.5h1M428 201.5h5M631 201.5h1M401 197.5h1M421 197.5h2M635 197.5h1M65 387.5h2M173 328.5h1M722 328.5h2M1361 492.5h1M1374 492.5h1M336 238.5h1M537 238.5h4M219 302.5h4M700 302.5h1M789 302.5h2M94 359.5h1M399 199.5h1M425 199.5h1M633 199.5h1M1355 487.5h1M1378 487.5h1M19 406.5h6M1407 406.5h1M402 196.5h1M417 196.5h4M1221 506.5h2M14 408.5h3M1236 526.5h1M209 305.5h2M702 305.5h1M282 289.5h2M683 289.5h1M33 404.5h4M1409 404.5h1M1188 458.5h1M329 248.5h1M203 307.5h3M54 394.5h2M1417 394.5h1M312 271.5h1M97 355.5h1M852 528.5h1M1239 528.5h2M1290 466.5h2M1294 466.5h2M288 286.5h2M681 286.5h1M105 346.5h1M1137 346.5h1M1181 450.5h1M320 261.5h1M389 206.5h2M454 206.5h3M626 206.5h1M85 367.5h1M332 244.5h1M855 532.5h1M375 214.5h1M469 214.5h2M617 214.5h2M89 364.5h1M717 325.5h2M1192 464.5h1M4 424.5h1M78 373.5h1M856 533.5h1M1347 477.5h1M1385 477.5h1M50 396.5h2M1415 396.5h1M73 379.5h1M300 278.5h2M706 310.5h1M309 274.5h1M92 361.5h1M280 290.5h2M684 290.5h1M44 399.5h2M1413 399.5h1M109 341.5h1M740 341.5h3M759 341.5h4M1131 341.5h1M1263 478.5h1M1348 478.5h1M1362 493.5h1M1373 493.5h1M46 398.5h2M284 288.5h2M177 323.5h1M859 537.5h1M316 267.5h1M42 400.5h2M1412 400.5h1M1227 510.5h1M307 275.5h2M61 390.5h2M1420 390.5h1M1228 511.5h1M1242 530.5h2M104 347.5h1M1138 347.5h1M364 227.5h1M582 227.5h2M1357 489.5h1M99 353.5h1M326 252.5h1M311 272.5h1M857 534.5h1M295 282.5h1M1135 345.5h2M1223 507.5h1M1183 452.5h1M72 380.5h1M299 279.5h1M58 392.5h2M91 362.5h1M190 317.5h1M711 317.5h1M63 389.5h1M1349 479.5h1M84 368.5h1M1182 451.5h1M322 258.5h1M334 241.5h1M82 370.5h1M179 321.5h1M714 321.5h1M75 376.5h1M67 386.5h1M305 276.5h2M101 351.5h1M1203 475.5h1M1265 475.5h1M1344 475.5h1M962 576.5h1M313 270.5h1M98 354.5h1M1185 455.5h1M93 360.5h1M86 366.5h1M961 575.5h1M1351 482.5h1M1224 508.5h1M957 572.5h1M69 384.5h1M1134 344.5h1M1380 485.5h1M324 255.5h1M77 374.5h1M81 371.5h1M178 322.5h1M315 268.5h1M327 251.5h1" fill="none" stroke="#3cb371" stroke-width="1"/>
</g>
<g shape-rendering="crispEdges">
<rect x="0" y="255" width="1655" height="1" fill="#c0c0c0"/>
<rect x="0" y="181" width="1650" height="1" fill="#ff0000"/>
<rect x="1650.5" y="179.5" width="4" height="4" fill="#fff" stroke="#ff0000" stroke-width="1"/>
<rect x="0" y="179" width="1" height="5" fill="#ff0000"/>
<rect x="0" y="206" width="1650" height="1" fill="#ff0000"/>
<rect x="1650.5" y="204.5" width="4" height="4" fill="#fff" stroke="#ff0000" stroke-width="1"/>
<rect x="0" y="204" width="1" height="5" fill="#ff0000"/>
<rect x="0" y="234" width="1650" height="1" fill="#32cd32"/>
<rect x="1650.5" y="232.5" width="4" height="4" fill="#fff" stroke="#32cd32" stroke-width="1"/>
<rect x="0" y="232" width="1" height="5" fill="#32cd32"/>
<rect x="0" y="277" width="1650" height="1" fill="#0000ff"/>
<rect x="1650.5" y="275.5" width="4" height="4" fill="#fff" stroke="#0000ff" stroke-width="1"/>
<rect x="0" y="275" width="1" height="5" fill="#0000ff"/>
<rect x="0" y="303" width="1650" height="1" fill="#0000ff"/>
<rect x="1650.5" y="301.5" width="4" height="4" fill="#fff" stroke="#0000ff" stroke-width="1"/>
<rect x="0" y="301" width="1" height="5" fill="#0000ff"/>
</g>
<rect x="1310" y="232" width="184" height="7" fill="#00ff00" shape-rendering="crispEdges"/>
<g shape-rendering="crispEdges" clip-path="url(#cmain)">
<rect x="4" y="226" width="1" height="48" fill="#000"/>
<rect x="2" y="234" width="5" height="31" fill="#000"/>
<rect x="12" y="255" width="1" height="67" fill="#000"/>
<rect x="10" y="264" width="5" height="39" fill="#000"/>
<rect x="20" y="291" width="1" height="56" fill="#000"/>
<rect x="18" y="302" width="5" height="29" fill="#000"/>
<rect x="28" y="317" width="1" height="17" fill="#000"/>
<rect x="26" y="324" width="5" height="8" fill="#000"/>
<rect x="27" y="325" width="3" height="6" fill="#fff"/>
<rect x="36" y="324" width="1" height="43" fill="#000"/>
<rect x="34" y="324" width="5" height="20" fill="#000"/>
<rect x="44" y="289" width="1" height="68" fill="#000"/>
<rect x="42" y="292" width="5" height="52" fill="#000"/>
<rect x="43" y="293" width="3" height="50" fill="#fff"/>
<rect x="52" y="277" width="1" height="46" fill="#000"/>
<rect x="50" y="279" width="5" height="14" fill="#000"/>
<rect x="51" y="280" width="3" height="12" fill="#fff"/>
<rect x="60" y="227" width="1" height="70" fill="#000"/>
<rect x="58" y="265" width="5" height="15" fill="#000"/>
<rect x="59" y="266" width="3" height="13" fill="#fff"/>
<rect x="68" y="255" width="1" height="19" fill="#000"/>
<rect x="66" y="265" width="5" height="4" fill="#000"/>
<rect x="76" y="263" width="1" height="11" fill="#000"/>
<rect x="74" y="266" width="5" height="3" fill="#000"/>
<rect x="84" y="267" width="1" height="35" fill="#000"/>
<rect x="82" y="268" width="5" height="9" fill="#000"/>
<rect x="92" y="268" width="1" height="24" fill="#000"/>
<rect x="90" y="272" width="5" height="5" fill="#000"/>
<rect x="91" y="273" width="3" height="3" fill="#fff"/>
<rect x="100" y="259" width="1" height="37" fill="#000"/>
<rect x="98" y="270" width="5" height="3" fill="#000"/>
<rect x="99" y="271" width="3" height="1" fill="#fff"/>
<rect x="108" y="260" width="1" height="36" fill="#000"/>
<rect x="106" y="268" width="5" height="3" fill="#000"/>
<rect x="107" y="269" width="3" height="1" fill="#fff"/>
<rect x="116" y="257" width="1" height="19" fill="#000"/>
<rect x="114" y="267" width="5" height="2" fill="#000"/>
<rect x="124" y="253" width="1" height="27" fill="#000"/>
<rect x="122" y="259" width="5" height="9" fill="#000"/>
<rect x="123" y="260" width="3" height="7" fill="#fff"/>
<rect x="132" y="243" width="1" height="30" fill="#000"/>
<rect x="130" y="248" width="5" height="13" fill="#000"/>
<rect x="131" y="249" width="3" height="11" fill="#fff"/>
<rect x="140" y="217" width="1" height="38" fill="#000"/>
<rect x="138" y="246" width="5" height="3" fill="#000"/>
<rect x="139" y="247" width="3" height="1" fill="#fff"/>
<rect x="148" y="225" width="1" height="38" fill="#000"/>
<rect x="146" y="233" width="5" height="14" fill="#000"/>
<rect x="147" y="234" width="3" height="12" fill="#fff"/>
<rect x="156" y="232" width="1" height="56" fill="#000"/>
<rect x="154" y="232" width="5" height="25" fill="#000"/>
<rect x="164" y="249" width="1" height="22" fill="#000"/>
<rect x="162" y="256" width="5" height="7" fill="#000"/>
<rect x="172" y="244" width="1" height="20" fill="#000"/>
<rect x="170" y="248" width="5" height="15" fill="#000"/>
<rect x="171" y="249" width="3" height="13" fill="#fff"/>
<rect x="180" y="234" width="1" height="18" fill="#000"/>
<rect x="178" y="248" width="5" height="1" fill="#000"/>
<rect x="188" y="170" width="1" height="81" fill="#000"/>
<rect x="186" y="180" width="5" height="69" fill="#000"/>
<rect x="187" y="181" width="3" height="67" fill="#fff"/>
<rect x="196" y="176" width="1" height="44" fill="#000"/>
<rect x="194" y="181" width="5" height="4" fill="#000"/>
<rect x="204" y="172" width="1" height="51" fill="#000"/>
<rect x="202" y="184" width="5" height="16" fill="#000"/>
<rect x="212" y="198" width="1" height="39" fill="#000"/>
<rect x="210" y="200" width="5" height="32" fill="#000"/>
<rect x="220" y="212" width="1" height="33" fill="#000"/>
<rect x="218" y="214" width="5" height="18" fill="#000"/>
<rect x="219" y="215" width="3" height="16" fill="#fff"/>
<rect x="228" y="207" width="1" height="43" fill="#000"/>
<rect x="226" y="214" width="5" height="13" fill="#000"/>
<rect x="236" y="197" width="1" height="36" fill="#000"/>
<rect x="234" y="204" width="5" height="23" fill="#000"/>
<rect x="235" y="205" width="3" height="21" fill="#fff"/>
<rect x="244" y="195" width="1" height="27" fill="#000"/>
<rect x="242" y="204" width="5" height="2" fill="#000"/>
<rect x="252" y="141" width="1" height="74" fill="#000"/>
<rect x="250" y="152" width="5" height="53" fill="#000"/>
<rect x="251" y="153" width="3" height="51" fill="#fff"/>
<rect x="260" y="137" width="1" height="22" fill="#000"/>
<rect x="258" y="148" width="5" height="5" fill="#000"/>
<rect x="259" y="149" width="3" height="3" fill="#fff"/>
<rect x="268" y="142" width="1" height="15" fill="#000"/>
<rect x="266" y="147" width="5" height="1" fill="#000"/>
<rect x="276" y="125" width="1" height="41" fill="#000"/>
<rect x="274" y="136" width="5" height="12" fill="#000"/>
<rect x="275" y="137" width="3" height="10" fill="#fff"/>
<rect x="284" y="129" width="1" height="32" fill="#000"/>
<rect x="282" y="137" width="5" height="11" fill="#000"/>
<rect x="292" y="136" width="1" height="43" fill="#000"/>
<rect x="290" y="147" width="5" height="6" fill="#000"/>
<rect x="300" y="134" width="1" height="59" fill="#000"/>
<rect x="298" y="152" width="5" height="14" fill="#000"/>
<rect x="308" y="124" width="1" height="46" fill="#000"/>
<rect x="306" y="143" width="5" height="23" fill="#000"/>
<rect x="307" y="144" width="3" height="21" fill="#fff"/>
<rect x="316" y="143" width="1" height="11" fill="#000"/>
<rect x="314" y="143" width="5" height="4" fill="#000"/>
<rect x="324" y="137" width="1" height="20" fill="#000"/>
<rect x="322" y="146" width="5" height="1" fill="#000"/>
<rect x="332" y="130" width="1" height="38" fill="#000"/>
<rect x="330" y="146" width="5" height="9" fill="#000"/>
<rect x="340" y="143" width="1" height="23" fill="#000"/>
<rect x="338" y="151" width="5" height="2" fill="#000"/>
<rect x="348" y="149" width="1" height="41" fill="#000"/>
<rect x="346" y="150" width="5" height="29" fill="#000"/>
<rect x="356" y="164" width="1" height="15" fill="#000"/>
<rect x="354" y="170" width="5" height="9" fill="#000"/>
<rect x="355" y="171" width="3" height="7" fill="#fff"/>
<rect x="364" y="162" width="1" height="22" fill="#000"/>
<rect x="362" y="166" width="5" height="6" fill="#000"/>
<rect x="363" y="167" width="3" height="4" fill="#fff"/>
<rect x="372" y="145" width="1" height="28" fill="#000"/>
<rect x="370" y="158" width="5" height="9" fill="#000"/>
<rect x="371" y="159" width="3" height="7" fill="#fff"/>
<rect x="380" y="134" width="1" height="52" fill="#000"/>
<rect x="378" y="158" width="5" height="4" fill="#000"/>
<rect x="388" y="158" width="1" height="72" fill="#000"/>
<rect x="386" y="161" width="5" height="61" fill="#000"/>
<rect x="396" y="167" width="1" height="59" fill="#000"/>
<rect x="394" y="172" width="5" height="50" fill="#000"/>
<rect x="395" y="173" width="3" height="48" fill="#fff"/>
<rect x="404" y="153" width="1" height="24" fill="#000"/>
<rect x="402" y="165" width="5" height="8" fill="#000"/>
<rect x="403" y="166" width="3" height="6" fill="#fff"/>
<rect x="412" y="156" width="1" height="12" fill="#000"/>
<rect x="410" y="165" width="5" height="3" fill="#000"/>
<rect x="420" y="151" width="1" height="26" fill="#000"/>
<rect x="418" y="166" width="5" height="1" fill="#000"/>
<rect x="428" y="159" width="1" height="44" fill="#000"/>
<rect x="426" y="166" width="5" height="30" fill="#000"/>
<rect x="436" y="176" width="1" height="59" fill="#000"/>
<rect x="434" y="181" width="5" height="15" fill="#000"/>
<rect x="435" y="182" width="3" height="13" fill="#fff"/>
<rect x="444" y="173" width="1" height="58" fill="#000"/>
<rect x="442" y="182" width="5" height="4" fill="#000"/>
<rect x="452" y="168" width="1" height="24" fill="#000"/>
<rect x="450" y="180" width="5" height="6" fill="#000"/>
<rect x="451" y="181" width="3" height="4" fill="#fff"/>
<rect x="460" y="176" width="1" height="25" fill="#000"/>
<rect x="458" y="181" width="5" height="18" fill="#000"/>
<rect x="468" y="193" width="1" height="24" fill="#000"/>
<rect x="466" y="198" width="5" height="10" fill="#000"/>
<rect x="476" y="205" width="1" height="35" fill="#000"/>
<rect x="474" y="207" width="5" height="11" fill="#000"/>
<rect x="484" y="161" width="1" height="57" fill="#000"/>
<rect x="482" y="161" width="5" height="57" fill="#000"/>
<rect x="483" y="162" width="3" height="55" fill="#fff"/>
<rect x="492" y="141" width="1" height="35" fill="#000"/>
<rect x="490" y="155" width="5" height="7" fill="#000"/>
<rect x="491" y="156" width="3" height="5" fill="#fff"/>
<rect x="500" y="151" width="1" height="46" fill="#000"/>
<rect x="498" y="155" width="5" height="36" fill="#000"/>
<rect x="508" y="170" width="1" height="30" fill="#000"/>
<rect x="506" y="175" width="5" height="17" fill="#000"/>
<rect x="507" y="176" width="3" height="15" fill="#fff"/>
<rect x="516" y="137" width="1" height="56" fill="#000"/>
<rect x="514" y="138" width="5" height="38" fill="#000"/>
<rect x="515" y="139" width="3" height="36" fill="#fff"/>
<rect x="524" y="82" width="1" height="69" fill="#000"/>
<rect x="522" y="93" width="5" height="47" fill="#000"/>
<rect x="523" y="94" width="3" height="45" fill="#fff"/>
<rect x="532" y="79" width="1" height="32" fill="#000"/>
<rect x="530" y="92" width="5" height="2" fill="#000"/>
<rect x="540" y="88" width="1" height="64" fill="#000"/>
<rect x="538" y="92" width="5" height="43" fill="#000"/>
<rect x="548" y="118" width="1" height="33" fill="#000"/>
<rect x="546" y="134" width="5" height="8" fill="#000"/>
<rect x="556" y="147" width="1" height="17" fill="#000"/>
<rect x="554" y="148" width="5" height="14" fill="#000"/>
<rect x="555" y="149" width="3" height="12" fill="#fff"/>
<rect x="564" y="136" width="1" height="28" fill="#000"/>
<rect x="562" y="140" width="5" height="8" fill="#000"/>
<rect x="563" y="141" width="3" height="6" fill="#fff"/>
<rect x="572" y="135" width="1" height="37" fill="#000"/>
<rect x="570" y="140" width="5" height="12" fill="#000"/>
<rect x="580" y="123" width="1" height="38" fill="#000"/>
<rect x="578" y="135" width="5" height="17" fill="#000"/>
<rect x="579" y="136" width="3" height="15" fill="#fff"/>
<rect x="588" y="120" width="1" height="56" fill="#000"/>
<rect x="586" y="135" width="5" height="1" fill="#000"/>
<rect x="596" y="132" width="1" height="20" fill="#000"/>
<rect x="594" y="135" width="5" height="2" fill="#000"/>
<rect x="604" y="126" width="1" height="23" fill="#000"/>
<rect x="602" y="136" width="5" height="1" fill="#000"/>
<rect x="612" y="104" width="1" height="38" fill="#000"/>
<rect x="610" y="112" width="5" height="25" fill="#000"/>
<rect x="611" y="113" width="3" height="23" fill="#fff"/>
<rect x="620" y="74" width="1" height="58" fill="#000"/>
<rect x="618" y="78" width="5" height="35" fill="#000"/>
<rect x="619" y="79" width="3" height="33" fill="#fff"/>
<rect x="628" y="63" width="1" height="36" fill="#000"/>
<rect x="626" y="78" width="5" height="14" fill="#000"/>
<rect x="636" y="52" width="1" height="145" fill="#000"/>
<rect x="634" y="91" width="5" height="93" fill="#000"/>
<rect x="644" y="164" width="1" height="89" fill="#000"/>
<rect x="642" y="183" width="5" height="60" fill="#000"/>
<rect x="652" y="227" width="1" height="18" fill="#000"/>
<rect x="650" y="230" width="5" height="13" fill="#000"/>
<rect x="651" y="231" width="3" height="11" fill="#fff"/>
<rect x="660" y="222" width="1" height="56" fill="#000"/>
<rect x="658" y="230" width="5" height="23" fill="#000"/>
<rect x="668" y="221" width="1" height="45" fill="#000"/>
<rect x="666" y="252" width="5" height="1" fill="#000"/>
<rect x="676" y="240" width="1" height="66" fill="#000"/>
<rect x="674" y="253" width="5" height="40" fill="#000"/>
<rect x="684" y="232" width="1" height="86" fill="#000"/>
<rect x="682" y="248" width="5" height="46" fill="#000"/>
<rect x="683" y="249" width="3" height="44" fill="#fff"/>
<rect x="692" y="236" width="1" height="28" fill="#000"/>
<rect x="690" y="239" width="5" height="10" fill="#000"/>
<rect x="691" y="240" width="3" height="8" fill="#fff"/>
<rect x="700" y="232" width="1" height="22" fill="#000"/>
<rect x="698" y="232" width="5" height="8" fill="#000"/>
<rect x="699" y="233" width="3" height="6" fill="#fff"/>
<rect x="708" y="221" width="1" height="52" fill="#000"/>
<rect x="706" y="233" width="5" height="37" fill="#000"/>
<rect x="716" y="257" width="1" height="38" fill="#000"/>
<rect x="714" y="269" width="5" height="6" fill="#000"/>
<rect x="724" y="243" width="1" height="48" fill="#000"/>
<rect x="722" y="244" width="5" height="31" fill="#000"/>
<rect x="723" y="245" width="3" height="29" fill="#fff"/>
<rect x="732" y="222" width="1" height="91" fill="#000"/>
<rect x="730" y="244" width="5" height="30" fill="#000"/>
<rect x="740" y="242" width="1" height="38" fill="#000"/>
<rect x="738" y="253" width="5" height="21" fill="#000"/>
<rect x="739" y="254" width="3" height="19" fill="#fff"/>
<rect x="748" y="239" width="1" height="22" fill="#000"/>
<rect x="746" y="248" width="5" height="6" fill="#000"/>
<rect x="747" y="249" width="3" height="4" fill="#fff"/>
<rect x="756" y="219" width="1" height="35" fill="#000"/>
<rect x="754" y="222" width="5" height="27" fill="#000"/>
<rect x="755" y="223" width="3" height="25" fill="#fff"/>
<rect x="764" y="197" width="1" height="36" fill="#000"/>
<rect x="762" y="212" width="5" height="11" fill="#000"/>
<rect x="763" y="213" width="3" height="9" fill="#fff"/>
<rect x="772" y="180" width="1" height="50" fill="#000"/>
<rect x="770" y="195" width="5" height="18" fill="#000"/>
<rect x="771" y="196" width="3" height="16" fill="#fff"/>
<rect x="780" y="172" width="1" height="114" fill="#000"/>
<rect x="778" y="195" width="5" height="70" fill="#000"/>
<rect x="788" y="246" width="1" height="48" fill="#000"/>
<rect x="786" y="264" width="5" height="30" fill="#000"/>
<rect x="796" y="292" width="1" height="13" fill="#000"/>
<rect x="794" y="296" width="5" height="6" fill="#000"/>
<rect x="795" y="297" width="3" height="4" fill="#fff"/>
<rect x="804" y="288" width="1" height="61" fill="#000"/>
<rect x="802" y="297" width="5" height="36" fill="#000"/>
<rect x="812" y="330" width="1" height="100" fill="#000"/>
<rect x="810" y="332" width="5" height="89" fill="#000"/>
<rect x="820" y="399" width="1" height="83" fill="#000"/>
<rect x="818" y="421" width="5" height="59" fill="#000"/>
<rect x="828" y="419" width="1" height="86" fill="#000"/>
<rect x="826" y="480" width="5" height="13" fill="#000"/>
<rect x="836" y="486" width="1" height="49" fill="#000"/>
<rect x="834" y="492" width="5" height="7" fill="#000"/>
<rect x="844" y="486" width="1" height="38" fill="#000"/>
<rect x="842" y="489" width="5" height="10" fill="#000"/>
<rect x="843" y="490" width="3" height="8" fill="#fff"/>
<rect x="852" y="444" width="1" height="64" fill="#000"/>
<rect x="850" y="445" width="5" height="46" fill="#000"/>
<rect x="851" y="446" width="3" height="44" fill="#fff"/>
<rect x="860" y="411" width="1" height="62" fill="#000"/>
<rect x="858" y="424" width="5" height="21" fill="#000"/>
<rect x="859" y="425" width="3" height="19" fill="#fff"/>
<rect x="868" y="408" width="1" height="72" fill="#000"/>
<rect x="866" y="424" width="5" height="50" fill="#000"/>
<rect x="876" y="459" width="1" height="106" fill="#000"/>
<rect x="874" y="473" width="5" height="36" fill="#000"/>
<rect x="884" y="501" width="1" height="39" fill="#000"/>
<rect x="882" y="508" width="5" height="24" fill="#000"/>
<rect x="892" y="523" width="1" height="30" fill="#000"/>
<rect x="890" y="531" width="5" height="18" fill="#000"/>
<rect x="900" y="460" width="1" height="96" fill="#000"/>
<rect x="898" y="500" width="5" height="50" fill="#000"/>
<rect x="899" y="501" width="3" height="48" fill="#fff"/>
<rect x="908" y="473" width="1" height="59" fill="#000"/>
<rect x="906" y="500" width="5" height="28" fill="#000"/>
<rect x="916" y="486" width="1" height="42" fill="#000"/>
<rect x="914" y="505" width="5" height="23" fill="#000"/>
<rect x="915" y="506" width="3" height="21" fill="#fff"/>
<rect x="924" y="451" width="1" height="78" fill="#000"/>
<rect x="922" y="452" width="5" height="54" fill="#000"/>
<rect x="923" y="453" width="3" height="52" fill="#fff"/>
<rect x="932" y="432" width="1" height="65" fill="#000"/>
<rect x="930" y="452" width="5" height="41" fill="#000"/>
<rect x="940" y="482" width="1" height="29" fill="#000"/>
<rect x="938" y="487" width="5" height="6" fill="#000"/>
<rect x="939" y="488" width="3" height="4" fill="#fff"/>
<rect x="948" y="447" width="1" height="42" fill="#000"/>
<rect x="946" y="452" width="5" height="32" fill="#000"/>
<rect x="947" y="453" width="3" height="30" fill="#fff"/>
<rect x="956" y="403" width="1" height="58" fill="#000"/>
<rect x="954" y="406" width="5" height="47" fill="#000"/>
<rect x="955" y="407" width="3" height="45" fill="#fff"/>
<rect x="964" y="300" width="1" height="136" fill="#000"/>
<rect x="962" y="302" width="5" height="105" fill="#000"/>
<rect x="963" y="303" width="3" height="103" fill="#fff"/>
<rect x="972" y="233" width="1" height="98" fill="#000"/>
<rect x="970" y="238" width="5" height="66" fill="#000"/>
<rect x="971" y="239" width="3" height="64" fill="#fff"/>
<rect x="980" y="231" width="1" height="25" fill="#000"/>
<rect x="978" y="238" width="5" height="14" fill="#000"/>
<rect x="988" y="238" width="1" height="20" fill="#000"/>
<rect x="986" y="244" width="5" height="8" fill="#000"/>
<rect x="987" y="245" width="3" height="6" fill="#fff"/>
<rect x="996" y="209" width="1" height="41" fill="#000"/>
<rect x="994" y="223" width="5" height="23" fill="#000"/>
<rect x="995" y="224" width="3" height="21" fill="#fff"/>
<rect x="1004" y="198" width="1" height="46" fill="#000"/>
<rect x="1002" y="223" width="5" height="14" fill="#000"/>
<rect x="1012" y="229" width="1" height="49" fill="#000"/>
<rect x="1010" y="236" width="5" height="39" fill="#000"/>
<rect x="1020" y="222" width="1" height="73" fill="#000"/>
<rect x="1018" y="234" width="5" height="39" fill="#000"/>
<rect x="1019" y="235" width="3" height="37" fill="#fff"/>
<rect x="1028" y="218" width="1" height="36" fill="#000"/>
<rect x="1026" y="234" width="5" height="16" fill="#000"/>
<rect x="1036" y="236" width="1" height="18" fill="#000"/>
<rect x="1034" y="236" width="5" height="6" fill="#000"/>
<rect x="1044" y="232" width="1" height="47" fill="#000"/>
<rect x="1042" y="242" width="5" height="29" fill="#000"/>
<rect x="1052" y="215" width="1" height="58" fill="#000"/>
<rect x="1050" y="223" width="5" height="48" fill="#000"/>
<rect x="1051" y="224" width="3" height="46" fill="#fff"/>
<rect x="1060" y="141" width="1" height="88" fill="#000"/>
<rect x="1058" y="169" width="5" height="55" fill="#000"/>
<rect x="1059" y="170" width="3" height="53" fill="#fff"/>
<rect x="1068" y="139" width="1" height="54" fill="#000"/>
<rect x="1066" y="142" width="5" height="27" fill="#000"/>
<rect x="1067" y="143" width="3" height="25" fill="#fff"/>
<rect x="1076" y="137" width="1" height="22" fill="#000"/>
<rect x="1074" y="142" width="5" height="7" fill="#000"/>
<rect x="1084" y="141" width="1" height="36" fill="#000"/>
<rect x="1082" y="148" width="5" height="12" fill="#000"/>
<rect x="1092" y="103" width="1" height="72" fill="#000"/>
<rect x="1090" y="107" width="5" height="53" fill="#000"/>
<rect x="1091" y="108" width="3" height="51" fill="#fff"/>
<rect x="1100" y="88" width="1" height="68" fill="#000"/>
<rect x="1098" y="108" width="5" height="36" fill="#000"/>
<rect x="1108" y="137" width="1" height="100" fill="#000"/>
<rect x="1106" y="143" width="5" height="85" fill="#000"/>
<rect x="1116" y="224" width="1" height="132" fill="#000"/>
<rect x="1114" y="225" width="5" height="110" fill="#000"/>
<rect x="1124" y="288" width="1" height="51" fill="#000"/>
<rect x="1122" y="305" width="5" height="29" fill="#000"/>
<rect x="1123" y="306" width="3" height="27" fill="#fff"/>
<rect x="1132" y="285" width="1" height="25" fill="#000"/>
<rect x="1130" y="291" width="5" height="14" fill="#000"/>
<rect x="1131" y="292" width="3" height="12" fill="#fff"/>
<rect x="1140" y="269" width="1" height="52" fill="#000"/>
<rect x="1138" y="293" width="5" height="11" fill="#000"/>
<rect x="1148" y="278" width="1" height="88" fill="#000"/>
<rect x="1146" y="303" width="5" height="63" fill="#000"/>
<rect x="1156" y="345" width="1" height="69" fill="#000"/>
<rect x="1154" y="365" width="5" height="25" fill="#000"/>
<rect x="1164" y="368" width="1" height="70" fill="#000"/>
<rect x="1162" y="390" width="5" height="2" fill="#000"/>
<rect x="1172" y="356" width="1" height="59" fill="#000"/>
<rect x="1170" y="391" width="5" height="9" fill="#000"/>
<rect x="1180" y="376" width="1" height="24" fill="#000"/>
<rect x="1178" y="387" width="5" height="13" fill="#000"/>
<rect x="1179" y="388" width="3" height="11" fill="#fff"/>
<rect x="1188" y="350" width="1" height="44" fill="#000"/>
<rect x="1186" y="350" width="5" height="37" fill="#000"/>
<rect x="1187" y="351" width="3" height="35" fill="#fff"/>
<rect x="1196" y="341" width="1" height="52" fill="#000"/>
<rect x="1194" y="350" width="5" height="25" fill="#000"/>
<rect x="1204" y="334" width="1" height="58" fill="#000"/>
<rect x="1202" y="344" width="5" height="32" fill="#000"/>
<rect x="1203" y="345" width="3" height="30" fill="#fff"/>
<rect x="1212" y="301" width="1" height="116" fill="#000"/>
<rect x="1210" y="344" width="5" height="57" fill="#000"/>
<rect x="1220" y="394" width="1" height="58" fill="#000"/>
<rect x="1218" y="401" width="5" height="34" fill="#000"/>
<rect x="1228" y="407" width="1" height="38" fill="#000"/>
<rect x="1226" y="409" width="5" height="26" fill="#000"/>
<rect x="1227" y="410" width="3" height="24" fill="#fff"/>
<rect x="1236" y="403" width="1" height="84" fill="#000"/>
<rect x="1234" y="409" width="5" height="76" fill="#000"/>
<rect x="1244" y="442" width="1" height="86" fill="#000"/>
<rect x="1242" y="456" width="5" height="28" fill="#000"/>
<rect x="1243" y="457" width="3" height="26" fill="#fff"/>
<rect x="1252" y="341" width="1" height="153" fill="#000"/>
<rect x="1250" y="358" width="5" height="99" fill="#000"/>
<rect x="1251" y="359" width="3" height="97" fill="#fff"/>
<rect x="1260" y="328" width="1" height="78" fill="#000"/>
<rect x="1258" y="348" width="5" height="11" fill="#000"/>
<rect x="1259" y="349" width="3" height="9" fill="#fff"/>
<rect x="1268" y="338" width="1" height="28" fill="#000"/>
<rect x="1266" y="346" width="5" height="13" fill="#000"/>
<rect x="1276" y="342" width="1" height="15" fill="#000"/>
<rect x="1274" y="343" width="5" height="11" fill="#000"/>
<rect x="1284" y="342" width="1" height="56" fill="#000"/>
<rect x="1282" y="353" width="5" height="31" fill="#000"/>
<rect x="1292" y="323" width="1" height="71" fill="#000"/>
<rect x="1290" y="325" width="5" height="59" fill="#000"/>
<rect x="1291" y="326" width="3" height="57" fill="#fff"/>
<rect x="1300" y="259" width="1" height="87" fill="#000"/>
<rect x="1298" y="277" width="5" height="50" fill="#000"/>
<rect x="1299" y="278" width="3" height="48" fill="#fff"/>
<rect x="1308" y="225" width="1" height="111" fill="#000"/>
<rect x="1306" y="277" width="5" height="31" fill="#000"/>
<rect x="1316" y="283" width="1" height="40" fill="#000"/>
<rect x="1314" y="295" width="5" height="13" fill="#000"/>
<rect x="1315" y="296" width="3" height="11" fill="#fff"/>
<rect x="1324" y="284" width="1" height="26" fill="#000"/>
<rect x="1322" y="295" width="5" height="1" fill="#000"/>
<rect x="1332" y="269" width="1" height="60" fill="#000"/>
<rect x="1330" y="276" width="5" height="22" fill="#000"/>
<rect x="1331" y="277" width="3" height="20" fill="#fff"/>
<rect x="1340" y="241" width="1" height="57" fill="#000"/>
<rect x="1338" y="272" width="5" height="5" fill="#000"/>
<rect x="1339" y="273" width="3" height="3" fill="#fff"/>
<rect x="1348" y="193" width="1" height="84" fill="#000"/>
<rect x="1346" y="236" width="5" height="35" fill="#000"/>
<rect x="1347" y="237" width="3" height="33" fill="#fff"/>
<rect x="1356" y="156" width="1" height="86" fill="#000"/>
<rect x="1354" y="171" width="5" height="65" fill="#000"/>
<rect x="1355" y="172" width="3" height="63" fill="#fff"/>
<rect x="1364" y="157" width="1" height="26" fill="#000"/>
<rect x="1362" y="171" width="5" height="12" fill="#000"/>
<rect x="1372" y="164" width="1" height="24" fill="#000"/>
<rect x="1370" y="175" width="5" height="7" fill="#000"/>
<rect x="1371" y="176" width="3" height="5" fill="#fff"/>
<rect x="1380" y="141" width="1" height="33" fill="#000"/>
<rect x="1378" y="166" width="5" height="8" fill="#000"/>
<rect x="1379" y="167" width="3" height="6" fill="#fff"/>
<rect x="1388" y="147" width="1" height="85" fill="#000"/>
<rect x="1386" y="167" width="5" height="65" fill="#000"/>
<rect x="1396" y="231" width="1" height="63" fill="#000"/>
<rect x="1394" y="232" width="5" height="44" fill="#000"/>
<rect x="1404" y="247" width="1" height="73" fill="#000"/>
<rect x="1402" y="275" width="5" height="15" fill="#000"/>
<rect x="1412" y="238" width="1" height="66" fill="#000"/>
<rect x="1410" y="246" width="5" height="44" fill="#000"/>
<rect x="1411" y="247" width="3" height="42" fill="#fff"/>
<rect x="1420" y="239" width="1" height="17" fill="#000"/>
<rect x="1418" y="241" width="5" height="15" fill="#000"/>
</g>
<rect x="1310" y="232" width="184" height="7" fill="#00ff00" shape-rendering="crispEdges"/>
<g shape-rendering="crispEdges">
<rect x="4" y="625" width="1" height="32" fill="#c0c0c0"/>
<rect x="12" y="628" width="1" height="29" fill="#c0c0c0"/>
<rect x="20" y="634" width="1" height="23" fill="#c0c0c0"/>
<rect x="28" y="637" width="1" height="20" fill="#c0c0c0"/>
<rect x="36" y="642" width="1" height="15" fill="#c0c0c0"/>
<rect x="44" y="641" width="1" height="16" fill="#c0c0c0"/>
<rect x="52" y="640" width="1" height="17" fill="#c0c0c0"/>
<rect x="60" y="638" width="1" height="19" fill="#c0c0c0"/>
<rect x="68" y="637" width="1" height="20" fill="#c0c0c0"/>
<rect x="76" y="637" width="1" height="20" fill="#c0c0c0"/>
<rect x="84" y="636" width="1" height="21" fill="#c0c0c0"/>
<rect x="92" y="636" width="1" height="21" fill="#c0c0c0"/>
<rect x="100" y="637" width="1" height="20" fill="#c0c0c0"/>
<rect x="108" y="637" width="1" height="20" fill="#c0c0c0"/>
<rect x="116" y="636" width="1" height="21" fill="#c0c0c0"/>
<rect x="124" y="636" width="1" height="21" fill="#c0c0c0"/>
<rect x="132" y="635" width="1" height="22" fill="#c0c0c0"/>
<rect x="140" y="634" width="1" height="23" fill="#c0c0c0"/>
<rect x="148" y="634" width="1" height="23" fill="#c0c0c0"/>
<rect x="156" y="635" width="1" height="22" fill="#c0c0c0"/>
<rect x="164" y="637" width="1" height="20" fill="#c0c0c0"/>
<rect x="172" y="637" width="1" height="20" fill="#c0c0c0"/>
<rect x="180" y="638" width="1" height="19" fill="#c0c0c0"/>
<rect x="188" y="632" width="1" height="25" fill="#c0c0c0"/>
<rect x="196" y="629" width="1" height="28" fill="#c0c0c0"/>
<rect x="204" y="628" width="1" height="29" fill="#c0c0c0"/>
<rect x="212" y="630" width="1" height="27" fill="#c0c0c0"/>
<rect x="220" y="632" width="1" height="25" fill="#c0c0c0"/>
<rect x="228" y="633" width="1" height="24" fill="#c0c0c0"/>
<rect x="236" y="631" width="1" height="26" fill="#c0c0c0"/>
<rect x="244" y="631" width="1" height="26" fill="#c0c0c0"/>
<rect x="252" y="628" width="1" height="29" fill="#c0c0c0"/>
<rect x="260" y="625" width="1" height="32" fill="#c0c0c0"/>
<rect x="268" y="622" width="1" height="35" fill="#c0c0c0"/>
<rect x="276" y="620" width="1" height="37" fill="#c0c0c0"/>
<rect x="284" y="620" width="1" height="37" fill="#c0c0c0"/>
<rect x="292" y="620" width="1" height="37" fill="#c0c0c0"/>
<rect x="300" y="622" width="1" height="35" fill="#c0c0c0"/>
<rect x="308" y="622" width="1" height="35" fill="#c0c0c0"/>
<rect x="316" y="623" width="1" height="34" fill="#c0c0c0"/>
<rect x="324" y="624" width="1" height="33" fill="#c0c0c0"/>
<rect x="332" y="625" width="1" height="32" fill="#c0c0c0"/>
<rect x="340" y="627" width="1" height="30" fill="#c0c0c0"/>
<rect x="348" y="631" width="1" height="26" fill="#c0c0c0"/>
<rect x="356" y="633" width="1" height="24" fill="#c0c0c0"/>
<rect x="364" y="635" width="1" height="22" fill="#c0c0c0"/>
<rect x="372" y="636" width="1" height="21" fill="#c0c0c0"/>
<rect x="380" y="638" width="1" height="19" fill="#c0c0c0"/>
<rect x="388" y="644" width="1" height="13" fill="#c0c0c0"/>
<rect x="396" y="645" width="1" height="12" fill="#c0c0c0"/>
<rect x="404" y="645" width="1" height="12" fill="#c0c0c0"/>
<rect x="412" y="646" width="1" height="11" fill="#c0c0c0"/>
<rect x="420" y="647" width="1" height="10" fill="#c0c0c0"/>
<rect x="428" y="650" width="1" height="7" fill="#c0c0c0"/>
<rect x="436" y="651" width="1" height="6" fill="#c0c0c0"/>
<rect x="444" y="652" width="1" height="5" fill="#c0c0c0"/>
<rect x="452" y="653" width="1" height="4" fill="#c0c0c0"/>
<rect x="460" y="655" width="1" height="2" fill="#c0c0c0"/>
<rect x="468" y="656" width="1" height="1" fill="#c0c0c0"/>
<rect x="476" y="656" width="1" height="4" fill="#c0c0c0"/>
<rect x="484" y="655" width="1" height="2" fill="#c0c0c0"/>
<rect x="492" y="655" width="1" height="2" fill="#c0c0c0"/>
<rect x="500" y="656" width="1" height="1" fill="#c0c0c0"/>
<rect x="508" y="655" width="1" height="2" fill="#c0c0c0"/>
<rect x="516" y="652" width="1" height="5" fill="#c0c0c0"/>
<rect x="524" y="645" width="1" height="12" fill="#c0c0c0"/>
<rect x="532" y="640" width="1" height="17" fill="#c0c0c0"/>
<rect x="540" y="640" width="1" height="17" fill="#c0c0c0"/>
<rect x="548" y="640" width="1" height="17" fill="#c0c0c0"/>
<rect x="556" y="642" width="1" height="15" fill="#c0c0c0"/>
<rect x="564" y="642" width="1" height="15" fill="#c0c0c0"/>
<rect x="572" y="643" width="1" height="14" fill="#c0c0c0"/>
<rect x="580" y="643" width="1" height="14" fill="#c0c0c0"/>
<rect x="588" y="644" width="1" height="13" fill="#c0c0c0"/>
<rect x="596" y="644" width="1" height="13" fill="#c0c0c0"/>
<rect x="604" y="644" width="1" height="13" fill="#c0c0c0"/>
<rect x="612" y="643" width="1" height="14" fill="#c0c0c0"/>
<rect x="620" y="639" width="1" height="18" fill="#c0c0c0"/>
<rect x="628" y="637" width="1" height="20" fill="#c0c0c0"/>
<rect x="636" y="644" width="1" height="13" fill="#c0c0c0"/>
<rect x="644" y="654" width="1" height="3" fill="#c0c0c0"/>
<rect x="652" y="656" width="1" height="5" fill="#c0c0c0"/>
<rect x="660" y="656" width="1" height="13" fill="#c0c0c0"/>
<rect x="668" y="656" width="1" height="19" fill="#c0c0c0"/>
<rect x="676" y="656" width="1" height="27" fill="#c0c0c0"/>
<rect x="684" y="656" width="1" height="29" fill="#c0c0c0"/>
<rect x="692" y="656" width="1" height="29" fill="#c0c0c0"/>
<rect x="700" y="656" width="1" height="29" fill="#c0c0c0"/>
<rect x="708" y="656" width="1" height="31" fill="#c0c0c0"/>
<rect x="716" y="656" width="1" height="33" fill="#c0c0c0"/>
<rect x="724" y="656" width="1" height="32" fill="#c0c0c0"/>
<rect x="732" y="656" width="1" height="33" fill="#c0c0c0"/>
<rect x="740" y="656" width="1" height="31" fill="#c0c0c0"/>
<rect x="748" y="656" width="1" height="30" fill="#c0c0c0"/>
<rect x="756" y="656" width="1" height="26" fill="#c0c0c0"/>
<rect x="764" y="656" width="1" height="21" fill="#c0c0c0"/>
<rect x="772" y="656" width="1" height="15" fill="#c0c0c0"/>
<rect x="780" y="656" width="1" height="17" fill="#c0c0c0"/>
<rect x="788" y="656" width="1" height="21" fill="#c0c0c0"/>
<rect x="796" y="656" width="1" height="23" fill="#c0c0c0"/>
<rect x="804" y="656" width="1" height="29" fill="#c0c0c0"/>
<rect x="812" y="656" width="1" height="42" fill="#c0c0c0"/>
<rect x="820" y="656" width="1" height="55" fill="#c0c0c0"/>
<rect x="828" y="656" width="1" height="66" fill="#c0c0c0"/>
<rect x="836" y="656" width="1" height="75" fill="#c0c0c0"/>
<rect x="844" y="656" width="1" height="80" fill="#c0c0c0"/>
<rect x="852" y="656" width="1" height="78" fill="#c0c0c0"/>
<rect x="860" y="656" width="1" height="76" fill="#c0c0c0"/>
<rect x="868" y="656" width="1" height="77" fill="#c0c0c0"/>
<rect x="876" y="656" width="1" height="79" fill="#c0c0c0"/>
<rect x="884" y="656" width="1" height="83" fill="#c0c0c0"/>
<rect x="892" y="656" width="1" height="85" fill="#c0c0c0"/>
<rect x="900" y="656" width="1" height="83" fill="#c0c0c0"/>
<rect x="908" y="656" width="1" height="81" fill="#c0c0c0"/>
<rect x="916" y="656" width="1" height="79" fill="#c0c0c0"/>
<rect x="924" y="656" width="1" height="71" fill="#c0c0c0"/>
<rect x="932" y="656" width="1" height="67" fill="#c0c0c0"/>
<rect x="940" y="656" width="1" height="63" fill="#c0c0c0"/>
<rect x="948" y="656" width="1" height="56" fill="#c0c0c0"/>
<rect x="956" y="656" width="1" height="45" fill="#c0c0c0"/>
<rect x="964" y="656" width="1" height="29" fill="#c0c0c0"/>
<rect x="972" y="656" width="1" height="8" fill="#c0c0c0"/>
<rect x="980" y="651" width="1" height="6" fill="#c0c0c0"/>
<rect x="988" y="639" width="1" height="18" fill="#c0c0c0"/>
<rect x="996" y="628" width="1" height="29" fill="#c0c0c0"/>
<rect x="1004" y="621" width="1" height="36" fill="#c0c0c0"/>
<rect x="1012" y="619" width="1" height="38" fill="#c0c0c0"/>
<rect x="1020" y="615" width="1" height="42" fill="#c0c0c0"/>
<rect x="1028" y="613" width="1" height="44" fill="#c0c0c0"/>
<rect x="1036" y="612" width="1" height="45" fill="#c0c0c0"/>
<rect x="1044" y="613" width="1" height="44" fill="#c0c0c0"/>
<rect x="1052" y="611" width="1" height="46" fill="#c0c0c0"/>
<rect x="1060" y="605" width="1" height="52" fill="#c0c0c0"/>
<rect x="1068" y="599" width="1" height="58" fill="#c0c0c0"/>
<rect x="1076" y="595" width="1" height="62" fill="#c0c0c0"/>
<rect x="1084" y="594" width="1" height="63" fill="#c0c0c0"/>
<rect x="1092" y="589" width="1" height="68" fill="#c0c0c0"/>
<rect x="1100" y="589" width="1" height="68" fill="#c0c0c0"/>
<rect x="1108" y="597" width="1" height="60" fill="#c0c0c0"/>
<rect x="1116" y="614" width="1" height="43" fill="#c0c0c0"/>
<rect x="1124" y="626" width="1" height="31" fill="#c0c0c0"/>
<rect x="1132" y="632" width="1" height="25" fill="#c0c0c0"/>
<rect x="1140" y="640" width="1" height="17" fill="#c0c0c0"/>
<rect x="1148" y="651" width="1" height="6" fill="#c0c0c0"/>
<rect x="1156" y="656" width="1" height="6" fill="#c0c0c0"/>
<rect x="1164" y="656" width="1" height="15" fill="#c0c0c0"/>
<rect x="1172" y="656" width="1" height="21" fill="#c0c0c0"/>
<rect x="1180" y="656" width="1" height="26" fill="#c0c0c0"/>
<rect x="1188" y="656" width="1" height="27" fill="#c0c0c0"/>
<rect x="1196" y="656" width="1" height="28" fill="#c0c0c0"/>
<rect x="1204" y="656" width="1" height="27" fill="#c0c0c0"/>
<rect x="1212" y="656" width="1" height="30" fill="#c0c0c0"/>
<rect x="1220" y="656" width="1" height="36" fill="#c0c0c0"/>
<rect x="1228" y="656" width="1" height="37" fill="#c0c0c0"/>
<rect x="1236" y="656" width="1" height="44" fill="#c0c0c0"/>
<rect x="1244" y="656" width="1" height="47" fill="#c0c0c0"/>
<rect x="1252" y="656" width="1" height="40" fill="#c0c0c0"/>
<rect x="1260" y="656" width="1" height="34" fill="#c0c0c0"/>
<rect x="1268" y="656" width="1" height="29" fill="#c0c0c0"/>
<rect x="1276" y="656" width="1" height="25" fill="#c0c0c0"/>
<rect x="1284" y="656" width="1" height="23" fill="#c0c0c0"/>
<rect x="1292" y="656" width="1" height="17" fill="#c0c0c0"/>
<rect x="1300" y="656" width="1" height="8" fill="#c0c0c0"/>
<rect x="1308" y="656" width="1" height="3" fill="#c0c0c0"/>
<rect x="1316" y="655" width="1" height="2" fill="#c0c0c0"/>
<rect x="1324" y="651" width="1" height="6" fill="#c0c0c0"/>
<rect x="1332" y="646" width="1" height="11" fill="#c0c0c0"/>
<rect x="1340" y="642" width="1" height="15" fill="#c0c0c0"/>
<rect x="1348" y="636" width="1" height="21" fill="#c0c0c0"/>
<rect x="1356" y="626" width="1" height="31" fill="#c0c0c0"/>
<rect x="1364" y="620" width="1" height="37" fill="#c0c0c0"/>
<rect x="1372" y="614" width="1" height="43" fill="#c0c0c0"/>
<rect x="1380" y="612" width="1" height="45" fill="#c0c0c0"/>
<rect x="1388" y="615" width="1" height="42" fill="#c0c0c0"/>
<rect x="1396" y="624" width="1" height="33" fill="#c0c0c0"/>
<rect x="1404" y="626" width="1" height="31" fill="#c0c0c0"/>
<rect x="1412" y="628" width="1" height="29" fill="#c0c0c0"/>
<rect x="1420" y="634" width="1" height="23" fill="#c0c0c0"/>
<path d="M1026.5 638v2M1162.5 627v2M990.5 687v2M981.5 699v2M999.5 675v2M1011.5 657v2M1007.5 663v2M1003.5 669v2M7 638.5h2M414 638.5h1M1171 638.5h1M1373 638.5h2M19 634.5h2M24 634.5h1M60 634.5h3M193 634.5h2M198 634.5h3M396 634.5h3M1030 634.5h1M1168 634.5h1M1379 634.5h1M289 625.5h2M294 625.5h3M355 625.5h2M360 625.5h1M1042 625.5h2M451 648.5h2M456 648.5h1M547 648.5h2M660 648.5h2M14 636.5h1M67 636.5h2M72 636.5h3M78 636.5h3M114 636.5h3M120 636.5h3M126 636.5h3M132 636.5h3M403 636.5h2M12 637.5h2M84 637.5h3M90 637.5h3M96 637.5h3M102 637.5h3M108 637.5h3M408 637.5h3M1375 637.5h1M427 642.5h2M582 642.5h3M588 642.5h3M594 642.5h3M600 642.5h3M606 642.5h3M612 642.5h3M618 642.5h3M624 642.5h1M642 642.5h1M1367 642.5h1M1054 617.5h2M1152 617.5h1M680 658.5h1M1189 658.5h1M1343 658.5h2M793 680.5h2M798 680.5h3M806 680.5h1M996 680.5h1M1223 680.5h1M1308 680.5h1M685 662.5h2M1008 662.5h1M1193 662.5h1M1337 662.5h1M439 645.5h2M564 645.5h3M654 645.5h2M1021 645.5h1M1177 645.5h1M1362 645.5h1M971 712.5h1M726 683.5h3M769 683.5h2M774 683.5h3M817 683.5h2M1229 683.5h1M1303 683.5h1M18 635.5h1M66 635.5h1M138 635.5h3M144 635.5h3M150 635.5h3M156 635.5h3M162 635.5h3M168 635.5h3M174 635.5h3M180 635.5h3M186 635.5h3M192 635.5h1M402 635.5h1M438 644.5h1M570 644.5h3M649 644.5h2M1022 644.5h1M1176 644.5h1M1363 644.5h1M475 652.5h2M480 652.5h1M534 652.5h1M1015 652.5h1M1184 652.5h1M703 672.5h2M1207 672.5h1M1321 672.5h1M888 731.5h2M943 731.5h2M679 657.5h1M1188 657.5h1M1345 657.5h1M716 679.5h1M804 679.5h2M1219 679.5h1M1309 679.5h1M1195 664.5h1M1333 664.5h1M987 692.5h1M1236 687.5h2M1296 687.5h2M722 682.5h1M780 682.5h3M811 682.5h2M816 682.5h1M994 682.5h1M866 718.5h1M966 718.5h1M457 649.5h2M462 649.5h3M546 649.5h1M662 649.5h1M1357 649.5h1M954 727.5h2M492 654.5h3M522 654.5h3M674 654.5h1M1349 654.5h2M895 734.5h2M930 734.5h3M829 690.5h2M1249 690.5h1M1253 690.5h3M1283 690.5h3M25 633.5h2M30 633.5h3M49 633.5h2M54 633.5h3M204 633.5h3M390 633.5h3M1031 633.5h2M1167 633.5h1M1380 633.5h2M732 684.5h3M763 684.5h2M768 684.5h1M822 684.5h1M1230 684.5h2M1301 684.5h2M313 622.5h2M318 622.5h3M343 622.5h2M1158 622.5h1M1403 622.5h3M710 676.5h1M1212 676.5h2M1314 676.5h2M834 693.5h1M986 693.5h1M745 686.5h2M750 686.5h3M756 686.5h3M824 686.5h1M991 686.5h1M1235 686.5h1M864 717.5h2M967 717.5h1M2 640.5h1M420 640.5h3M1025 640.5h1M1173 640.5h1M906 736.5h3M912 736.5h3M918 736.5h3M1072 610.5h1M835 694.5h1M985 694.5h1M738 685.5h3M744 685.5h1M762 685.5h1M823 685.5h1M720 681.5h2M786 681.5h3M792 681.5h1M810 681.5h1M995 681.5h1M1224 681.5h2M1307 681.5h1M846 703.5h1M828 689.5h1M1243 689.5h1M1247 689.5h2M1289 689.5h3M474 651.5h1M535 651.5h2M667 651.5h2M1016 651.5h1M1183 651.5h1M1355 651.5h1M306 623.5h3M312 623.5h1M348 623.5h3M1399 623.5h1M300 624.5h3M354 624.5h1M1044 624.5h1M1397 624.5h2M444 646.5h3M558 646.5h3M656 646.5h1M1020 646.5h1M1178 646.5h1M1361 646.5h1M714 678.5h2M1217 678.5h2M1313 677.5h1M265 628.5h2M270 628.5h3M372 628.5h3M1037 628.5h2M708 675.5h2M1211 675.5h1M1241 688.5h2M1295 688.5h1M698 669.5h1M1325 669.5h2M498 655.5h3M504 655.5h3M510 655.5h3M516 655.5h3M900 735.5h3M924 735.5h3M481 653.5h2M486 653.5h3M528 653.5h3M672 653.5h2M1351 653.5h1M1060 614.5h2M890 732.5h1M942 732.5h1M1259 691.5h3M1265 691.5h3M1271 691.5h3M1277 691.5h3M1108 598.5h3M1114 598.5h3M234 631.5h3M240 631.5h3M246 631.5h3M384 631.5h2M1385 631.5h1M1066 612.5h1M1145 612.5h2M324 621.5h3M330 621.5h3M336 621.5h3M342 621.5h1M1048 621.5h1M1157 621.5h1M1409 621.5h2M276 627.5h3M367 627.5h2M1391 627.5h2M840 698.5h1M982 698.5h1M450 647.5h1M552 647.5h3M1090 604.5h3M1133 604.5h2M252 630.5h3M1386 630.5h2M690 665.5h2M1332 665.5h1M36 632.5h3M42 632.5h3M48 632.5h1M210 632.5h3M216 632.5h3M222 632.5h3M228 632.5h3M386 632.5h1M1166 632.5h1M841 699.5h2M468 650.5h3M540 650.5h3M666 650.5h1M1017 650.5h1M1182 650.5h1M1356 650.5h1M847 704.5h2M978 704.5h1M1078 607.5h3M1138 607.5h2M0 641.5h2M426 641.5h1M625 641.5h2M630 641.5h3M636 641.5h3M1368 641.5h2M1067 611.5h2M1144 611.5h1M282 626.5h3M288 626.5h1M361 626.5h2M366 626.5h1M1161 626.5h1M1393 626.5h1M702 671.5h1M1205 671.5h2M258 629.5h3M264 629.5h1M378 629.5h3M1036 629.5h1M696 668.5h2M1004 668.5h1M1201 668.5h1M1327 668.5h1M1049 620.5h2M1156 620.5h1M1411 620.5h1M1415 620.5h3M948 730.5h2M432 643.5h3M576 643.5h3M643 643.5h2M648 643.5h1M1102 600.5h3M1097 602.5h2M852 708.5h1M1120 599.5h3M854 710.5h1M973 710.5h1M836 695.5h1M678 656.5h1M1012 656.5h1M1187 656.5h1M6 639.5h1M415 639.5h2M1172 639.5h1M968 716.5h1M870 720.5h1M1199 667.5h2M1140 608.5h1M872 722.5h1M961 722.5h2M1126 601.5h3M976 706.5h1M1084 605.5h3M894 733.5h1M936 733.5h3M1319 673.5h2M1194 663.5h1M858 713.5h1M1096 603.5h1M1132 603.5h1M1150 615.5h1M882 728.5h2M884 729.5h1M950 729.5h1M684 661.5h1M1338 661.5h2M876 725.5h2M878 726.5h1M956 726.5h1M853 709.5h1M692 666.5h1M1331 666.5h1M972 711.5h1M1062 613.5h1M960 723.5h1M1073 609.5h2M871 721.5h1M859 714.5h1M860 715.5h1M1056 616.5h1M1151 616.5h1M977 705.5h1M1000 674.5h1" fill="none" stroke="#ff0000" stroke-width="1"/>
</g>
<g shape-rendering="crispEdges">
<line x1="3" y1="787.5" x2="1655" y2="787.5" stroke="#c0c0c0" stroke-width="1" stroke-dasharray="3 3"/>
<line x1="3" y1="838.5" x2="1655" y2="838.5" stroke="#c0c0c0" stroke-width="1" stroke-dasharray="3 3"/>
<line x1="3" y1="899.5" x2="1655" y2="899.5" stroke="#c0c0c0" stroke-width="1" stroke-dasharray="3 3"/>
<path d="M211.5 826v2M154.5 822v2M480.5 840v4M185.5 809v3M618.5 813v2M629.5 820v4M394.5 839v3M632.5 832v4M538.5 824v2M810.5 874v2M847.5 877v2M477.5 850v3M1382.5 813v2M1248.5 848v3M1388.5 827v2M184.5 812v3M955.5 837v2M381.5 830v4M393.5 842v2M1231.5 858v2M1107.5 828v2M476.5 853v2M5.5 821v2M635.5 844v4M483.5 831v3M1246.5 853v3M679.5 865v2M628.5 817v3M1103.5 819v2M1100.5 813v2M391.5 847v2M851.5 869v2M949.5 845v2M522.5 815v2M1110.5 835v3M494.5 831v2M205.5 814v2M188.5 802v2M346.5 830v2M380.5 828v2M532.5 812v2M390.5 849v3M1249.5 846v2M850.5 871v2M250.5 811v2M7.5 824v2M11.5 830v2M1383.5 815v3M246.5 818v2M517.5 823v2M1101.5 815v2M1102.5 817v2M383.5 837v3M385.5 844v3M425.5 839v2M1108.5 830v3M386.5 847v3M493.5 829v2M1109.5 833v2M1115.5 848v2M1392.5 832v2M344.5 826v2M511.5 832v2M40.5 837v2M155.5 824v2M898.5 869v2M776.5 841v3M777.5 844v2M9.5 827v2M894.5 875v2M200.5 808v2M1385.5 820v3M340.5 818v2M643.5 861v2M893.5 877v2M1114.5 845v3M775.5 839v2M540.5 828v2M962.5 823v2M187.5 804v3M206.5 816v2M149.5 813v2M1233.5 861v2M520.5 818v2M634.5 840v4M1112.5 840v3M961.5 825v2M683.5 858v2M630.5 824v4M922.5 852v2M1291.5 834v2M811.5 876v2M208.5 820v2M956.5 835v2M952.5 841v2M181.5 820v3M633.5 836v4M917.5 860v2M180.5 823v2M1111.5 838v2M495.5 833v2M347.5 832v2M533.5 814v2M479.5 844v3M779.5 848v2M846.5 879v2M1387.5 825v2M1384.5 818v2M958.5 831v2M38.5 840v2M497.5 836v2M1116.5 850v2M845.5 881v2M637.5 851v2M482.5 834v3M535.5 818v2M341.5 820v2M1244.5 858v2M677.5 869v2M382.5 834v3M427.5 842v2M389.5 852v2M249.5 813v2M636.5 848v3M245.5 820v2M1251.5 841v2M388.5 854v2M343.5 824v2M396.5 835v2M207.5 818v2M210.5 824v2M1144.5 850v2M150.5 815v2M153.5 820v2M772.5 833v2M805.5 866v2M1235.5 864v2M1250.5 843v3M1380.5 809v2M957.5 833v2M395.5 837v2M513.5 829v2M183.5 815v3M509.5 835v2M478.5 847v3M387.5 850v4M209.5 822v2M682.5 860v2M1352.5 813v2M678.5 867v2M1386.5 823v2M481.5 837v3M1104.5 821v3M2.5 816v2M499.5 840v2M515.5 826v2M1096.5 808v2M534.5 816v2M537.5 822v2M780.5 850v2M1285.5 842v2M518.5 821v2M484.5 829v2M1247.5 851v2M42.5 834v2M392.5 844v3M384.5 840v4M1.5 814v2M498.5 838v2M608.5 825v2M638.5 853v2M421.5 833v2M631.5 828v4M37.5 842v2M778.5 846v2M342.5 822v2M345.5 828v2M151.5 817v2M849.5 873v2M640.5 856v2M963.5 821v2M848.5 875v2M43.5 832v2M773.5 835v2M806.5 868v2M1381.5 811v2M642.5 859v2M923.5 850v2M1106.5 826v2M896.5 872v2M1288.5 838v2M1113.5 843v2M1208.5 850v2M774.5 837v2M899.5 867v2M539.5 826v2M182.5 818v2M536.5 820v2M808.5 871v2M918.5 858v2M251.5 809v2M247.5 816v2M720.5 855v2M1105.5 824v2M523.5 813v2M3.5 818v2M960.5 827v2M423.5 836v2M614.5 818v2M959.5 829v2M681.5 862v2M920.5 855v2M1245.5 856v2M864.5 866v2M186.5 807v2M968.5 815v2M1252.5 839v2M1229.5 855v2M52 827.5h2M81 827.5h2M87 827.5h4M158 827.5h2M168 827.5h1M214 827.5h2M226 827.5h2M229 827.5h2M366 827.5h2M378 827.5h2M607 827.5h1M1298 827.5h1M1303 827.5h1M1331 827.5h4M652 859.5h1M708 859.5h5M717 859.5h1M795 859.5h2M1169 859.5h5M1218 859.5h2M1221 859.5h2M46 830.5h2M164 830.5h1M356 830.5h3M543 830.5h4M580 830.5h25M1295 830.5h1M1307 830.5h1M1313 830.5h13M1390 830.5h1M878 875.5h2M0 813.5h1M146 813.5h2M204 813.5h1M292 813.5h1M307 813.5h1M313 813.5h6M623 813.5h1M970 813.5h1M979 813.5h11M1002 813.5h2M1058 813.5h1M141 816.5h2M296 816.5h1M303 816.5h2M325 816.5h2M616 816.5h1M627 816.5h1M1006 816.5h1M1020 816.5h2M1054 816.5h1M1350 816.5h1M833 887.5h5M650 860.5h2M653 860.5h2M713 860.5h4M797 860.5h2M1220 860.5h1M1232 860.5h1M1243 860.5h1M820 885.5h5M840 885.5h2M198 806.5h1M259 806.5h11M280 806.5h1M1090 806.5h1M1094 806.5h1M131 818.5h6M299 818.5h1M301 818.5h1M329 818.5h1M339 818.5h1M966 818.5h1M1008 818.5h1M1017 818.5h2M1024 818.5h2M1052 818.5h1M1348 818.5h1M20 840.5h5M29 840.5h2M434 840.5h2M441 840.5h6M454 840.5h1M503 840.5h2M758 840.5h2M953 840.5h1M1277 840.5h2M1287 840.5h1M1403 840.5h2M870 872.5h3M252 808.5h3M283 808.5h1M1067 808.5h11M1088 808.5h1M469 850.5h2M743 850.5h4M925 850.5h2M945 850.5h1M1118 850.5h2M1186 850.5h1M1192 850.5h2M1199 850.5h1M672 868.5h1M852 868.5h1M865 868.5h1M907 868.5h2M4 820.5h1M126 820.5h3M332 820.5h3M519 820.5h1M613 820.5h1M964 820.5h1M1010 820.5h1M1015 820.5h1M1028 820.5h9M1050 820.5h1M1346 820.5h1M129 819.5h2M152 819.5h1M300 819.5h1M330 819.5h2M335 819.5h4M965 819.5h1M1009 819.5h1M1016 819.5h1M1026 819.5h2M1051 819.5h1M1347 819.5h1M31 841.5h2M426 841.5h1M433 841.5h1M455 841.5h1M501 841.5h2M756 841.5h2M1279 841.5h2M1286 841.5h1M201 810.5h1M286 810.5h2M995 810.5h3M1062 810.5h3M1080 810.5h2M1086 810.5h1M1097 810.5h1M1355 810.5h1M1358 810.5h3M1375 810.5h4M462 847.5h3M750 847.5h1M948 847.5h1M1124 847.5h2M1141 847.5h1M1203 847.5h1M1205 847.5h1M44 831.5h2M354 831.5h2M404 831.5h5M512 831.5h1M547 831.5h3M564 831.5h2M578 831.5h2M1294 831.5h1M1308 831.5h5M1391 831.5h1M123 821.5h3M612 821.5h1M1011 821.5h1M1013 821.5h2M1037 821.5h2M1049 821.5h1M1345 821.5h1M648 861.5h2M655 861.5h2M799 861.5h1M1242 861.5h1M882 877.5h2M14 834.5h1M348 834.5h2M398 834.5h2M510 834.5h1M554 834.5h2M558 834.5h2M570 834.5h2M573 834.5h2M770 834.5h2M1393 834.5h1M1410 834.5h1M644 863.5h2M658 863.5h2M801 863.5h2M859 863.5h1M861 863.5h1M915 863.5h1M1234 863.5h1M1239 863.5h2M199 807.5h1M255 807.5h4M281 807.5h2M1089 807.5h1M1095 807.5h1M137 817.5h4M297 817.5h2M302 817.5h1M327 817.5h2M521 817.5h1M615 817.5h1M967 817.5h1M1007 817.5h1M1019 817.5h1M1022 817.5h2M1053 817.5h1M1349 817.5h1M641 858.5h1M707 858.5h1M718 858.5h1M791 858.5h4M1155 858.5h14M1174 858.5h3M1217 858.5h1M1223 858.5h1M639 855.5h1M688 855.5h2M703 855.5h2M729 855.5h2M735 855.5h1M785 855.5h2M932 855.5h5M1148 855.5h2M1181 855.5h1M1212 855.5h1M1227 855.5h1M12 832.5h1M352 832.5h2M402 832.5h2M409 832.5h12M550 832.5h2M562 832.5h2M566 832.5h2M577 832.5h1M1293 832.5h1M1412 832.5h5M56 825.5h2M67 825.5h11M97 825.5h16M171 825.5h1M218 825.5h2M222 825.5h2M232 825.5h1M370 825.5h2M374 825.5h2M516 825.5h1M1043 825.5h1M1045 825.5h1M1300 825.5h1M1339 825.5h2M671 867.5h1M853 867.5h2M903 867.5h4M909 867.5h2M6 823.5h1M60 823.5h3M118 823.5h3M235 823.5h1M610 823.5h1M1040 823.5h1M1047 823.5h1M1342 823.5h1M148 812.5h1M203 812.5h1M290 812.5h2M308 812.5h5M524 812.5h8M619 812.5h1M621 812.5h2M971 812.5h1M975 812.5h4M990 812.5h3M1000 812.5h2M1059 812.5h1M1084 812.5h1M1099 812.5h1M1353 812.5h1M1363 812.5h6M875 874.5h3M895 874.5h1M143 815.5h2M248 815.5h1M295 815.5h1M305 815.5h1M323 815.5h2M617 815.5h1M625 815.5h2M1005 815.5h1M1055 815.5h2M1351 815.5h1M690 854.5h2M702 854.5h1M721 854.5h1M728 854.5h1M736 854.5h1M784 854.5h1M921 854.5h1M931 854.5h1M937 854.5h4M1147 854.5h1M1182 854.5h1M1211 854.5h1M1228 854.5h1M675 870.5h1M807 870.5h1M867 870.5h1M676 871.5h1M868 871.5h2M897 871.5h1M465 848.5h2M749 848.5h1M947 848.5h1M1122 848.5h2M1142 848.5h1M1188 848.5h2M1201 848.5h2M1206 848.5h1M33 842.5h1M431 842.5h2M456 842.5h1M500 842.5h1M755 842.5h1M1281 842.5h1M8 826.5h1M54 826.5h2M78 826.5h3M91 826.5h6M156 826.5h2M169 826.5h2M216 826.5h2M224 826.5h2M231 826.5h1M368 826.5h2M376 826.5h2M1044 826.5h1M1299 826.5h1M1301 826.5h2M1335 826.5h4M474 853.5h2M692 853.5h5M701 853.5h1M722 853.5h1M727 853.5h1M737 853.5h2M783 853.5h1M929 853.5h2M941 853.5h1M1146 853.5h1M1183 853.5h1M1210 853.5h1M34 843.5h2M429 843.5h2M457 843.5h1M754 843.5h1M951 843.5h1M1282 843.5h2M19 839.5h1M25 839.5h4M39 839.5h1M436 839.5h5M447 839.5h4M453 839.5h1M505 839.5h1M760 839.5h2M954 839.5h1M1253 839.5h4M1265 839.5h12M1401 839.5h2M1405 839.5h1M17 837.5h1M508 837.5h1M764 837.5h2M1289 837.5h1M1396 837.5h2M1407 837.5h1M673 869.5h2M866 869.5h1M665 865.5h4M804 865.5h1M856 865.5h1M863 865.5h1M912 865.5h1M1237 865.5h1M686 856.5h2M705 856.5h1M731 856.5h1M733 856.5h2M787 856.5h1M1150 856.5h3M1179 856.5h2M1213 856.5h2M1225 856.5h2M58 824.5h2M63 824.5h4M113 824.5h5M172 824.5h8M220 824.5h2M233 824.5h2M372 824.5h2M609 824.5h1M1041 824.5h2M1046 824.5h1M1341 824.5h1M18 838.5h1M424 838.5h1M451 838.5h2M506 838.5h2M762 838.5h2M1257 838.5h8M1398 838.5h3M1406 838.5h1M284 809.5h2M1065 809.5h2M1078 809.5h2M1087 809.5h1M1356 809.5h2M1379 809.5h1M202 811.5h1M288 811.5h2M620 811.5h1M972 811.5h3M993 811.5h2M998 811.5h2M1060 811.5h2M1082 811.5h2M1085 811.5h1M1098 811.5h1M1354 811.5h1M1361 811.5h2M1369 811.5h6M467 849.5h2M747 849.5h2M924 849.5h1M946 849.5h1M1120 849.5h2M1143 849.5h1M1187 849.5h1M1190 849.5h2M1200 849.5h1M1207 849.5h1M197 805.5h1M270 805.5h3M279 805.5h1M1091 805.5h1M1093 805.5h1M646 862.5h2M657 862.5h1M800 862.5h1M860 862.5h1M916 862.5h1M1241 862.5h1M812 878.5h1M884 878.5h5M471 851.5h2M724 851.5h1M740 851.5h3M927 851.5h1M943 851.5h2M1117 851.5h1M1185 851.5h1M1194 851.5h2M1197 851.5h2M669 866.5h2M855 866.5h1M900 866.5h3M911 866.5h1M1236 866.5h1M121 822.5h2M236 822.5h9M611 822.5h1M1012 822.5h1M1039 822.5h1M1048 822.5h1M1343 822.5h2M825 886.5h8M838 886.5h2M817 882.5h1M13 833.5h1M350 833.5h2M400 833.5h2M552 833.5h2M560 833.5h2M568 833.5h2M575 833.5h2M1292 833.5h1M1411 833.5h1M1417 833.5h4M16 836.5h1M41 836.5h1M766 836.5h2M1290 836.5h1M1395 836.5h1M1408 836.5h1M818 883.5h1M844 883.5h1M684 857.5h2M706 857.5h1M719 857.5h1M732 857.5h1M788 857.5h3M919 857.5h1M1153 857.5h2M1177 857.5h2M1215 857.5h2M1224 857.5h1M1230 857.5h1M660 864.5h5M680 864.5h1M803 864.5h1M857 864.5h2M862 864.5h1M913 864.5h2M1238 864.5h1M191 803.5h4M275 803.5h2M145 814.5h1M293 814.5h2M306 814.5h1M319 814.5h4M624 814.5h1M969 814.5h1M1004 814.5h1M1057 814.5h1M15 835.5h1M397 835.5h1M422 835.5h1M496 835.5h1M556 835.5h2M572 835.5h1M768 835.5h2M1394 835.5h1M1409 835.5h1M460 846.5h2M751 846.5h1M1126 846.5h3M1139 846.5h2M1204 846.5h1M10 829.5h1M48 829.5h2M162 829.5h2M165 829.5h2M359 829.5h4M485 829.5h4M541 829.5h2M605 829.5h1M1296 829.5h1M1305 829.5h2M1326 829.5h3M1389 829.5h1M473 852.5h1M697 852.5h4M723 852.5h1M725 852.5h2M739 852.5h1M781 852.5h2M928 852.5h1M942 852.5h1M1145 852.5h1M1184 852.5h1M1196 852.5h1M1209 852.5h1M809 873.5h1M873 873.5h2M50 828.5h2M83 828.5h4M160 828.5h2M167 828.5h1M212 828.5h2M228 828.5h1M363 828.5h3M489 828.5h4M514 828.5h1M606 828.5h1M1297 828.5h1M1304 828.5h1M1329 828.5h2M36 844.5h1M428 844.5h1M458 844.5h1M753 844.5h1M950 844.5h1M1131 844.5h4M1284 844.5h1M195 804.5h2M273 804.5h2M277 804.5h2M1092 804.5h1M813 879.5h1M889 879.5h4M459 845.5h1M752 845.5h1M1129 845.5h2M1135 845.5h4M819 884.5h1M842 884.5h2M189 802.5h2M815 881.5h2M880 876.5h2M814 880.5h1" fill="none" stroke="#1e90ff" stroke-width="1"/>
</g>
<g shape-rendering="crispEdges" fill="#000">
<rect x="0" y="24" width="1656" height="1"/>
<rect x="1655" y="24" width="1" height="902"/>
<rect x="0" y="577" width="1656" height="1"/>
<rect x="0" y="579" width="1656" height="1"/>
<rect x="0" y="749" width="1656" height="1"/>
<rect x="0" y="751" width="1656" height="1"/>
<rect x="0" y="925" width="1656" height="1"/>
<rect x="60" y="926" width="1" height="3"/>
<rect x="124" y="926" width="1" height="3"/>
<rect x="188" y="926" width="1" height="3"/>
<rect x="252" y="926" width="1" height="3"/>
<rect x="316" y="926" width="1" height="3"/>
<rect x="380" y="926" width="1" height="3"/>
<rect x="444" y="926" width="1" height="3"/>
<rect x="508" y="926" width="1" height="3"/>
<rect x="572" y="926" width="1" height="3"/>
<rect x="636" y="926" width="1" height="3"/>
<rect x="700" y="926" width="1" height="3"/>
<rect x="764" y="926" width="1" height="3"/>
<rect x="828" y="926" width="1" height="3"/>
<rect x="892" y="926" width="1" height="3"/>
<rect x="956" y="926" width="1" height="3"/>
<rect x="1020" y="926" width="1" height="3"/>
<rect x="1084" y="926" width="1" height="3"/>
<rect x="1148" y="926" width="1" height="3"/>
<rect x="1212" y="926" width="1" height="3"/>
<rect x="1276" y="926" width="1" height="3"/>
<rect x="1340" y="926" width="1" height="3"/>
<rect x="1404" y="926" width="1" height="3"/>
</g>
<g font-family='"Liberation Sans", sans-serif'>
<g shape-rendering="crispEdges">
<rect x="1656" y="47" width="2" height="1" fill="#000"/>
<rect x="1656" y="80" width="2" height="1" fill="#000"/>
<rect x="1656" y="113" width="2" height="1" fill="#000"/>
<rect x="1656" y="146" width="2" height="1" fill="#000"/>
<rect x="1656" y="179" width="2" height="1" fill="#000"/>
<rect x="1656" y="212" width="2" height="1" fill="#000"/>
<rect x="1656" y="245" width="2" height="1" fill="#000"/>
<rect x="1656" y="278" width="2" height="1" fill="#000"/>
<rect x="1656" y="310" width="2" height="1" fill="#000"/>
<rect x="1656" y="343" width="2" height="1" fill="#000"/>
<rect x="1656" y="376" width="2" height="1" fill="#000"/>
<rect x="1656" y="409" width="2" height="1" fill="#000"/>
<rect x="1656" y="442" width="2" height="1" fill="#000"/>
<rect x="1656" y="475" width="2" height="1" fill="#000"/>
<rect x="1656" y="508" width="2" height="1" fill="#000"/>
<rect x="1656" y="541" width="2" height="1" fill="#000"/>
<rect x="1656" y="574" width="2" height="1" fill="#000"/>
<rect x="1656" y="581" width="2" height="1" fill="#000"/>
<rect x="1656" y="656" width="2" height="1" fill="#000"/>
<rect x="1656" y="748" width="2" height="1" fill="#000"/>
<rect x="1656" y="753" width="2" height="1" fill="#000"/>
<rect x="1656" y="787" width="2" height="1" fill="#000"/>
<rect x="1656" y="838" width="2" height="1" fill="#000"/>
<rect x="1656" y="899" width="2" height="1" fill="#000"/>
<rect x="1656" y="924" width="2" height="1" fill="#000"/>
</g>
<text x="1661.3" y="50.2" fill="#000" stroke="#000" stroke-width="0.15" font-size="9.1" text-anchor="start" font-weight="normal" >152.875</text>
<text x="1661.3" y="83.2" fill="#000" stroke="#000" stroke-width="0.15" font-size="9.1" text-anchor="start" font-weight="normal" >152.620</text>
<text x="1661.3" y="116.2" fill="#000" stroke="#000" stroke-width="0.15" font-size="9.1" text-anchor="start" font-weight="normal" >152.370</text>
<text x="1661.3" y="149.2" fill="#000" stroke="#000" stroke-width="0.15" font-size="9.1" text-anchor="start" font-weight="normal" >152.120</text>
<text x="1661.3" y="182.2" fill="#000" stroke="#000" stroke-width="0.15" font-size="9.1" text-anchor="start" font-weight="normal" >151.870</text>
<text x="1661.3" y="215.2" fill="#000" stroke="#000" stroke-width="0.15" font-size="9.1" text-anchor="start" font-weight="normal" >151.620</text>
<text x="1661.3" y="248.2" fill="#000" stroke="#000" stroke-width="0.15" font-size="9.1" text-anchor="start" font-weight="normal" >151.365</text>
<text x="1661.3" y="281.2" fill="#000" stroke="#000" stroke-width="0.15" font-size="9.1" text-anchor="start" font-weight="normal" >151.117</text>
<text x="1661.3" y="313.2" fill="#000" stroke="#000" stroke-width="0.15" font-size="9.1" text-anchor="start" font-weight="normal" >150.865</text>
<text x="1661.3" y="346.2" fill="#000" stroke="#000" stroke-width="0.15" font-size="9.1" text-anchor="start" font-weight="normal" >150.615</text>
<text x="1661.3" y="379.2" fill="#000" stroke="#000" stroke-width="0.15" font-size="9.1" text-anchor="start" font-weight="normal" >150.365</text>
<text x="1661.3" y="412.2" fill="#000" stroke="#000" stroke-width="0.15" font-size="9.1" text-anchor="start" font-weight="normal" >150.110</text>
<text x="1661.3" y="445.2" fill="#000" stroke="#000" stroke-width="0.15" font-size="9.1" text-anchor="start" font-weight="normal" >149.860</text>
<text x="1661.3" y="478.2" fill="#000" stroke="#000" stroke-width="0.15" font-size="9.1" text-anchor="start" font-weight="normal" >149.610</text>
<text x="1661.3" y="511.2" fill="#000" stroke="#000" stroke-width="0.15" font-size="9.1" text-anchor="start" font-weight="normal" >149.360</text>
<text x="1661.3" y="544.2" fill="#000" stroke="#000" stroke-width="0.15" font-size="9.1" text-anchor="start" font-weight="normal" >149.110</text>
<text x="1661.3" y="577.2" fill="#000" stroke="#000" stroke-width="0.15" font-size="9.1" text-anchor="start" font-weight="normal" >148.860</text>
<rect x="1657" y="175" width="41" height="11" fill="#ff0000" shape-rendering="crispEdges"/>
<text x="1661.3" y="183.5" fill="#fff" stroke="#fff" stroke-width="0.15" font-size="9.1" text-anchor="start" font-weight="normal" >151.846</text>
<rect x="1657" y="200" width="41" height="11" fill="#ff0000" shape-rendering="crispEdges"/>
<text x="1661.3" y="208.5" fill="#fff" stroke="#fff" stroke-width="0.15" font-size="9.1" text-anchor="start" font-weight="normal" >151.656</text>
<rect x="1657" y="228" width="41" height="11" fill="#32cd32" shape-rendering="crispEdges"/>
<text x="1661.3" y="236.5" fill="#fff" stroke="#fff" stroke-width="0.15" font-size="9.1" text-anchor="start" font-weight="normal" >151.444</text>
<rect x="1657" y="250" width="41" height="11" fill="#000000" shape-rendering="crispEdges"/>
<text x="1661.3" y="258.5" fill="#fff" stroke="#fff" stroke-width="0.15" font-size="9.1" text-anchor="start" font-weight="normal" >151.288</text>
<rect x="1657" y="271" width="41" height="11" fill="#0000ff" shape-rendering="crispEdges"/>
<text x="1661.3" y="279.5" fill="#fff" stroke="#fff" stroke-width="0.15" font-size="9.1" text-anchor="start" font-weight="normal" >151.117</text>
<rect x="1657" y="297" width="41" height="11" fill="#0000ff" shape-rendering="crispEdges"/>
<text x="1661.3" y="305.5" fill="#fff" stroke="#fff" stroke-width="0.15" font-size="9.1" text-anchor="start" font-weight="normal" >150.920</text>
<text x="1659" y="590" fill="#000" stroke="#000" stroke-width="0.15" font-size="9.1" text-anchor="start" font-weight="normal" >0.5251</text>
<text x="1659" y="659.4" fill="#000" stroke="#000" stroke-width="0.15" font-size="9.1" text-anchor="start" font-weight="normal" >0.00</text>
<text x="1659" y="746" fill="#000" stroke="#000" stroke-width="0.15" font-size="9.1" text-anchor="start" font-weight="normal" >-0.6454</text>
<text x="1659" y="761.6" fill="#000" stroke="#000" stroke-width="0.15" font-size="9.1" text-anchor="start" font-weight="normal" >100</text>
<text x="1659" y="790.6" fill="#000" stroke="#000" stroke-width="0.15" font-size="9.1" text-anchor="start" font-weight="normal" >80</text>
<text x="1659" y="841.8" fill="#000" stroke="#000" stroke-width="0.15" font-size="9.1" text-anchor="start" font-weight="normal" >50</text>
<text x="1659" y="902.6" fill="#000" stroke="#000" stroke-width="0.15" font-size="9.1" text-anchor="start" font-weight="normal" >15</text>
<text x="1659" y="921.4" fill="#000" stroke="#000" stroke-width="0.15" font-size="9.1" text-anchor="start" font-weight="normal" >0</text>
<text x="0.2" y="591.5" fill="#000" stroke="#000" stroke-width="0.15" font-size="9.3" text-anchor="start" font-weight="normal" >MACD(12,26,9) 0.1846 0.2517</text>
<text x="0.2" y="763.5" fill="#000" stroke="#000" stroke-width="0.15" font-size="9.3" text-anchor="start" font-weight="normal" >RSI(14) 52.9200</text>
<text x="11.5" y="36" fill="#000" stroke="#000" stroke-width="0.15" font-size="9.3" text-anchor="start" font-weight="normal" >GBPJPY-,H4&#160;&#160;151.350 151.419 151.287 151.288</text>
<path d="M0.5 34.5 L3.5 30.5 L6.5 34.5 Z" fill="#000"/>
<text x="-4.7" y="938" fill="#000" stroke="#000" stroke-width="0.15" font-size="9.5" text-anchor="start" font-weight="normal" >26 Aug 2021</text>
<text x="59" y="938" fill="#000" stroke="#000" stroke-width="0.15" font-size="9.5" text-anchor="start" font-weight="normal" >27 Aug 12:00</text>
<text x="123" y="938" fill="#000" stroke="#000" stroke-width="0.15" font-size="9.5" text-anchor="start" font-weight="normal" >30 Aug 20:00</text>
<text x="187" y="938" fill="#000" stroke="#000" stroke-width="0.15" font-size="9.5" text-anchor="start" font-weight="normal" >1 Sep 04:00</text>
<text x="251" y="938" fill="#000" stroke="#000" stroke-width="0.15" font-size="9.5" text-anchor="start" font-weight="normal" >2 Sep 12:00</text>
<text x="315" y="938" fill="#000" stroke="#000" stroke-width="0.15" font-size="9.5" text-anchor="start" font-weight="normal" >5 Sep 23:00</text>
<text x="379" y="938" fill="#000" stroke="#000" stroke-width="0.15" font-size="9.5" text-anchor="start" font-weight="normal" >7 Sep 04:00</text>
<text x="443" y="938" fill="#000" stroke="#000" stroke-width="0.15" font-size="9.5" text-anchor="start" font-weight="normal" >8 Sep 12:00</text>
<text x="507" y="938" fill="#000" stroke="#000" stroke-width="0.15" font-size="9.5" text-anchor="start" font-weight="normal" >9 Sep 20:00</text>
<text x="571" y="938" fill="#000" stroke="#000" stroke-width="0.15" font-size="9.5" text-anchor="start" font-weight="normal" >13 Sep 04:00</text>
<text x="635" y="938" fill="#000" stroke="#000" stroke-width="0.15" font-size="9.5" text-anchor="start" font-weight="normal" >14 Sep 12:00</text>
<text x="699" y="938" fill="#000" stroke="#000" stroke-width="0.15" font-size="9.5" text-anchor="start" font-weight="normal" >15 Sep 20:00</text>
<text x="763" y="938" fill="#000" stroke="#000" stroke-width="0.15" font-size="9.5" text-anchor="start" font-weight="normal" >17 Sep 04:00</text>
<text x="827" y="938" fill="#000" stroke="#000" stroke-width="0.15" font-size="9.5" text-anchor="start" font-weight="normal" >20 Sep 12:00</text>
<text x="891" y="938" fill="#000" stroke="#000" stroke-width="0.15" font-size="9.5" text-anchor="start" font-weight="normal" >21 Sep 20:00</text>
<text x="955" y="938" fill="#000" stroke="#000" stroke-width="0.15" font-size="9.5" text-anchor="start" font-weight="normal" >23 Sep 04:00</text>
<text x="1019" y="938" fill="#000" stroke="#000" stroke-width="0.15" font-size="9.5" text-anchor="start" font-weight="normal" >24 Sep 12:00</text>
<text x="1083" y="938" fill="#000" stroke="#000" stroke-width="0.15" font-size="9.5" text-anchor="start" font-weight="normal" >27 Sep 20:00</text>
<text x="1147" y="938" fill="#000" stroke="#000" stroke-width="0.15" font-size="9.5" text-anchor="start" font-weight="normal" >29 Sep 04:00</text>
<text x="1211" y="938" fill="#000" stroke="#000" stroke-width="0.15" font-size="9.5" text-anchor="start" font-weight="normal" >30 Sep 12:00</text>
<text x="1275" y="938" fill="#000" stroke="#000" stroke-width="0.15" font-size="9.5" text-anchor="start" font-weight="normal" >3 Oct 23:00</text>
<text x="1339" y="938" fill="#000" stroke="#000" stroke-width="0.15" font-size="9.5" text-anchor="start" font-weight="normal" >5 Oct 04:00</text>
<text x="1403" y="938" fill="#000" stroke="#000" stroke-width="0.15" font-size="9.5" text-anchor="start" font-weight="normal" >6 Oct 12:00</text>
</g>
<rect x="1029.5" y="79.5" width="61" height="18" fill="#fff" stroke="#ff0000" stroke-width="1" shape-rendering="crispEdges"/>
<text x="1031.7" y="95" fill="#ff0000" font-size="16.5" textLength="57.8" lengthAdjust="spacingAndGlyphs" font-family='"Liberation Sans", sans-serif'>152.552</text>
<rect x="1091" y="88" width="10" height="1" fill="#f00" shape-rendering="crispEdges"/>
<rect x="1309.5" y="132.5" width="61" height="18" fill="#fff" stroke="#ff0000" stroke-width="1" shape-rendering="crispEdges"/>
<text x="1311.7" y="148" fill="#ff0000" font-size="16.5" textLength="57.8" lengthAdjust="spacingAndGlyphs" font-family='"Liberation Sans", sans-serif'>152.149</text>
<rect x="1371" y="141" width="10" height="1" fill="#f00" shape-rendering="crispEdges"/>
<rect x="1371.5" y="139.5" width="2" height="3" fill="#fff" stroke="#f00" shape-rendering="crispEdges"/>
<rect x="1333.5" y="311.5" width="61" height="18" fill="#fff" stroke="#ff0000" stroke-width="1" shape-rendering="crispEdges"/>
<text x="1335.5" y="327" fill="#ff0000" font-size="16.5" textLength="57.8" lengthAdjust="spacingAndGlyphs" font-family='"Liberation Sans", sans-serif'>150.791</text>
<rect x="1395" y="320" width="10" height="1" fill="#f00" shape-rendering="crispEdges"/>
<rect x="1395.5" y="318.5" width="2" height="3" fill="#fff" stroke="#f00" shape-rendering="crispEdges"/>
<rect x="1173.5" y="519.5" width="61" height="18" fill="#fff" stroke="#ff0000" stroke-width="1" shape-rendering="crispEdges"/>
<text x="1175.7" y="535" fill="#ff0000" font-size="16.5" textLength="57.8" lengthAdjust="spacingAndGlyphs" font-family='"Liberation Sans", sans-serif'>149.212</text>
<rect x="1235" y="528" width="10" height="1" fill="#f00" shape-rendering="crispEdges"/>
<rect x="1165" y="234" width="10" height="1" fill="#f00" shape-rendering="crispEdges"/>
<rect x="1172.5" y="232.5" width="2" height="3" fill="#fff" stroke="#f00" shape-rendering="crispEdges"/>
<rect x="1175.5" y="222.5" width="73" height="24" fill="#fff" stroke="#ff0000" stroke-width="1" shape-rendering="crispEdges"/>
<text x="1177" y="242.7" fill="#ff0000" font-size="23.3" textLength="70.4" lengthAdjust="spacingAndGlyphs" font-family='"Liberation Sans", sans-serif'>151.444</text>
<line x1="1373.5" y1="143" x2="1400" y2="297.6" stroke="#ff0000" stroke-width="3.2" stroke-linecap="round"/><polygon points="1401.5,306.5 1394.7,296.5 1404.6,294.8" fill="#ff0000"/>
<line x1="1401.5" y1="305" x2="1416.9" y2="248.7" stroke="#ff0000" stroke-width="3.2" stroke-linecap="round"/><polygon points="1419,241 1421.2,252 1411.5,249.3" fill="#ff0000"/>
<line x1="1419" y1="241" x2="1431.5" y2="252.2" stroke="#ff0000" stroke-width="3" stroke-linecap="round"/><polygon points="1437.5,257.5 1426.7,254.6 1433.4,247.1" fill="#ff0000"/>
<line x1="1380.5" y1="611" x2="1421.5" y2="631.9" stroke="#ff0000" stroke-width="3" stroke-linecap="round"/><polygon points="1429.5,636 1417.4,635.5 1422,626.5" fill="#ff0000"/>
<line x1="1361" y1="804" x2="1418.8" y2="839.3" stroke="#ff0000" stroke-width="3" stroke-linecap="round"/><polygon points="1426.5,844 1414.5,842.5 1419.7,834" fill="#ff0000"/>
</svg>
<div id="tb"></div><div id="tbl0"></div><div id="tbl1"></div><div id="tbl2"></div><div id="redge"></div>
<svg width="1702" height="22" viewBox="0 0 1702 22" style="position:absolute;left:0;top:0" font-family='"Liberation Sans","Noto Sans CJK SC",sans-serif'>
<defs>
 <linearGradient id="gold" x1="0" y1="0" x2="1" y2="1"><stop offset="0" stop-color="#f8d860"/><stop offset="1" stop-color="#b87808"/></linearGradient>
 <linearGradient id="gold2" x1="0" y1="0.2" x2="1" y2="0.8"><stop offset="0" stop-color="#d89818"/><stop offset="0.45" stop-color="#ffe860"/><stop offset="1" stop-color="#c88810"/></linearGradient>
 <linearGradient id="lens" x1="0" y1="0" x2="0" y2="1"><stop offset="0" stop-color="#e8f4ff"/><stop offset="1" stop-color="#a8d0f8"/></linearGradient>
 <linearGradient id="grn" x1="0" y1="0" x2="0" y2="1"><stop offset="0" stop-color="#40e040"/><stop offset="1" stop-color="#10a010"/></linearGradient>
 <pattern id="hatch" width="2" height="2" patternUnits="userSpaceOnUse"><rect width="2" height="2" fill="#f8f8f8"/><rect width="1" height="1" fill="#e8e8e8"/><rect x="1" y="1" width="1" height="1" fill="#e8e8e8"/></pattern>
 <g id="axes" fill="none" stroke="#555" stroke-width="1.2"><path d="M2.5 1.5 V15 M0 13.5 H14"/><path d="M0.8 4 L2.5 1.2 L4.2 4 M11.5 11.8 L14 13.5 L11.5 15.2" stroke-width="1"/></g>
 <g id="plus"><path d="M4 0.5 H8 V4 H11.5 V8 H8 V11.5 H4 V8 H0.5 V4 H4 Z" fill="url(#grn)" stroke="#0a8a0a" stroke-width="1"/></g>
 <g id="doc"><path d="M0.5 0.5 H8 L11.5 4 V12.5 H0.5 Z" fill="#fdfdfd" stroke="#777" stroke-width="1"/><path d="M8 0.5 V4 H11.5" fill="#e0e0e0" stroke="#777"/><path d="M2.5 4.5 H6.5 M2.5 6.5 H9 M2.5 8.5 H9" stroke="#999"/></g>
 <path id="dd" d="M0 0 H5 L2.5 3 Z" fill="#000"/>
 <g id="grip"><path d="M0 0 H3 M0 2 H3 M0 4 H3 M0 6 H3 M0 8 H3 M0 10 H3 M0 12 H3 M0 14 H3 M0 16 H3" stroke="#989898" stroke-width="1"/></g>
</defs>
<!-- magnifier partial -->
<circle cx="-1.5" cy="6.5" r="5.5" fill="url(#lens)" stroke="#6090c8" stroke-width="1.3"/>
<path d="M3.8 11.8 L8 16.5" stroke="#c89830" stroke-width="2.6" stroke-linecap="round"/>
<rect x="16" y="0" width="1" height="18" fill="#a0a0a0"/><rect x="17" y="0" width="1" height="18" fill="#ffffff"/>
<!-- new order -->
<use href="#doc" x="26" y="1"/><use href="#plus" x="30" y="6.5"/>
<text x="45" y="11.5" font-size="12" font-weight="500" fill="#000">新订单</text>
<!-- gold book -->
<path d="M93.3 11 L93.3 9.5 L101 14.5 L108.3 8.5 L108.3 10.3 L101 16.3 Z" fill="#a86c08" stroke="#8a5606" stroke-width="0.6"/>
<path d="M101 14.8 L108.3 8.8 L108.3 10 L101 16 Z" fill="#fff4c8"/>
<path d="M98 1.5 L108.3 8.5 L101 14.5 L93.3 9.5 Q96.5 6 98 1.5 Z" fill="url(#gold2)" stroke="#a06808" stroke-width="0.9"/>
<!-- cloud/server -->
<rect x="124.5" y="0.5" width="9" height="11" fill="#2090f0" stroke="#1060c0"/><rect x="127" y="3" width="5" height="3" fill="#c0e4ff"/>
<path d="M123 15.5 a3 3 0 0 1 0.5 -6 a3.5 3.5 0 0 1 6.5 -1 a3.2 3.2 0 0 1 5 2 a2.6 2.6 0 0 1 -0.5 5 Z" fill="#eef4fc" stroke="#7898c8" stroke-width="1"/>
<!-- signal -->
<circle cx="157" cy="8" r="7.2" fill="none" stroke="#b8d0f0" stroke-width="1.6"/>
<circle cx="157" cy="8" r="4.4" fill="none" stroke="#6090d8" stroke-width="1.5"/>
<path d="M157 8 L164.5 8 A7.5 7.5 0 0 1 157 15.5 Z" fill="#58b048" opacity="0.45"/><path d="M161 3 A7.2 7.2 0 0 1 162 13.3" fill="none" stroke="#70b870" stroke-width="1.5"/><path d="M159.6 4.3 A4.4 4.4 0 0 1 160 11.2" fill="none" stroke="#60a868" stroke-width="1.4"/>
<circle cx="157" cy="7.5" r="1.6" fill="#2050c0"/><rect x="156.4" y="8" width="1.4" height="7.5" fill="#30a030"/>
<!-- autotrading -->
<path d="M177 5.5 L191.5 5.5 L186.5 15.5 L183.5 15.8 Z" fill="url(#gold2)" stroke="#c89810" stroke-width="0.8"/>
<ellipse cx="184.2" cy="4.6" rx="7.8" ry="2.7" fill="#58a8e8" stroke="#3078c0" stroke-width="0.7"/>
<path d="M180.5 4.2 Q184.5 -4 188 4.2 Z" fill="#68b4f0" stroke="#3078c0" stroke-width="0.7"/>
<circle cx="188.5" cy="11.5" r="4" fill="#e02010" stroke="#a01008" stroke-width="0.6"/><rect x="187" y="10" width="3" height="3" fill="#fff"/>
<text x="197" y="11.5" font-size="12" font-weight="500" fill="#000">自动交易</text>
<rect x="252" y="0" width="1" height="20" fill="#a0a0a0"/><rect x="253" y="0" width="1" height="20" fill="#ffffff"/>
<use href="#grip" x="256" y="0.5"/>
<!-- bar chart -->
<use href="#axes" x="268" y="0"/>
<path d="M276.5 3.5 V10.5 M276.5 3.5 H278.5 M274.5 10.5 H276.5" stroke="#18a018" stroke-width="1.3" fill="none"/>
<!-- candle (selected) -->
<rect x="291" y="0" width="24" height="18" fill="url(#hatch)"/><rect x="290" y="0" width="1" height="18" fill="#808080"/>
<use href="#axes" x="296" y="0"/>
<path d="M304.5 0 V11.5" stroke="#108a10" stroke-width="1.2"/><rect x="302.5" y="2.5" width="4" height="7" fill="#30e030" stroke="#108a10" stroke-width="0.8"/>
<!-- line chart -->
<use href="#axes" x="324" y="0"/>
<path d="M326 11 Q331 3.5 333 6 T337.5 9.5" stroke="#18a018" stroke-width="1.2" fill="none"/>
<rect x="347" y="0" width="1" height="18" fill="#a0a0a0"/><rect x="348" y="0" width="1" height="18" fill="#ffffff"/>
<!-- zoom in / out -->
<g id="zi"><path d="M366 10.5 L371 15.5" stroke="#d0a020" stroke-width="2.6" stroke-linecap="round"/><circle cx="361.5" cy="6.2" r="5.2" fill="url(#lens)" stroke="#4888d8" stroke-width="1.4"/></g>
<path d="M359 6.2 H364 M361.5 3.7 V8.7" stroke="#2868c8" stroke-width="1.4"/>
<path d="M394 10.5 L399 15.5" stroke="#d0a020" stroke-width="2.6" stroke-linecap="round"/><circle cx="389.5" cy="6.2" r="5.2" fill="url(#lens)" stroke="#4888d8" stroke-width="1.4"/>
<path d="M387 6.2 H392" stroke="#2868c8" stroke-width="1.4"/>
<!-- tile -->
<rect x="412" y="0.5" width="7.5" height="7" fill="#58a828"/><rect x="420.5" y="0.5" width="7.5" height="7" fill="#2860c8"/><rect x="412" y="8.5" width="7.5" height="7" fill="#2860c8"/><rect x="420.5" y="8.5" width="7.5" height="7" fill="#58a828"/>
<path d="M413.5 4.5 H418 M422 4.5 H426.5 M413.5 12.5 H418 M422 12.5 H426.5" stroke="#fff" stroke-width="1.6"/>
<rect x="437" y="0" width="1" height="18" fill="#a0a0a0"/><rect x="438" y="0" width="1" height="18" fill="#ffffff"/>
<!-- autoscroll (pressed) -->
<rect x="442" y="0" width="25" height="18" fill="url(#hatch)"/>
<use href="#axes" x="447" y="0"/><path d="M455 4.5 L459 7.5 L455 10.5 Z" fill="#28b028" stroke="#108a10" stroke-width="0.6"/>
<rect x="470" y="0" width="1" height="18" fill="#a0a0a0"/><rect x="471" y="0" width="1" height="18" fill="#ffffff"/>
<!-- chart shift (pressed) -->
<rect x="472" y="0" width="23" height="18" fill="url(#hatch)"/>
<use href="#axes" x="475" y="0"/><path d="M484.5 2 V12" stroke="#2868c8" stroke-width="1.2"/><path d="M490 7.5 H486.5 M488 5.5 L486 7.5 L488 9.5" stroke="#d03010" stroke-width="1.2" fill="none"/>
<rect x="499" y="0" width="1" height="18" fill="#a0a0a0"/><rect x="500" y="0" width="1" height="18" fill="#ffffff"/>
<!-- indicators -->
<use href="#doc" x="509" y="0.5"/><use href="#plus" x="513" y="6"/><use href="#dd" x="531" y="7"/>
<!-- clock -->
<circle cx="555" cy="8" r="7" fill="#f4f8ff" stroke="#1858c0" stroke-width="2.2"/><path d="M555 4 V8.5 H558.5" stroke="#555" stroke-width="1.1" fill="none"/><use href="#dd" x="570" y="7"/>
<!-- templates -->
<rect x="586.5" y="1.5" width="15" height="13" fill="#fff" stroke="#3878d0" stroke-width="1"/><rect x="586" y="1" width="16" height="2.5" fill="#3878d0"/>
<path d="M588 7.5 L591 6 L594 7 L597 5.5 L600 6" stroke="#c03020" stroke-width="1" fill="none"/><path d="M588 12 L591 10.5 L594 12 L597 10.5 L600 11.5" stroke="#20a030" stroke-width="1" fill="none"/>
<use href="#dd" x="609.5" y="7"/>
<use href="#grip" x="623.5" y="0.5"/>
<rect x="630" y="0" width="1" height="18" fill="#808080"/>
<!-- cursor (selected) -->
<rect x="631" y="0" width="24" height="18" fill="url(#hatch)"/>
<path d="M638.5 1.5 V13 L641.2 10.3 L643.3 14.8 L645 14 L643 9.6 L646.5 9.3 Z" fill="#333" stroke="#222" stroke-width="0.5"/>
<!-- crosshair -->
<path d="M663 8.5 H678 M670.5 1 V16" stroke="#444" stroke-width="1"/>
<rect x="687" y="0" width="1" height="18" fill="#a0a0a0"/><rect x="688" y="0" width="1" height="18" fill="#ffffff"/>
<path d="M704.5 2.5 V15" stroke="#444" stroke-width="1.1"/>
<path d="M727 8.5 H739" stroke="#444" stroke-width="1.1"/>
<path d="M755 15 L767.5 2.5" stroke="#444" stroke-width="1.1"/>
<!-- channel E -->
<path d="M781 14 L794 1 M784 15.5 L796 3.5 M783 12 L786 14 M786.5 8.5 L789.5 10.5 M790 5 L793 7" stroke="#555" stroke-width="1"/>
<text x="791.5" y="17" font-size="6.5" font-weight="bold" fill="#333">E</text>
<!-- fibo F -->
<path d="M810 2.5 H823 M810 6.5 H823 M810 10.5 H823 M810 13.5 H818" stroke="#555" stroke-width="1" stroke-dasharray="1 1"/>
<text x="819.5" y="17" font-size="6.5" font-weight="bold" fill="#333">F</text>
<text x="840" y="13" font-size="12.5" fill="#333">A</text>
<rect x="866.5" y="2.5" width="12.5" height="12.5" fill="none" stroke="#555" stroke-dasharray="1 1"/><text x="868.8" y="13.2" font-size="11.5" fill="#333">T</text>
<!-- arrows -->
<path d="M894.5 4 L897.5 1 L900.5 4 L897.5 7 Z M901.5 11.5 L904.5 8.5 L907.5 11.5 L904.5 14.5 Z" fill="#333"/><path d="M896 9 L899 12 L903 5" stroke="#333" stroke-width="1.3" fill="none"/>
<use href="#dd" x="915" y="7"/>
<rect x="926" y="0" width="1" height="20" fill="#a0a0a0"/><rect x="927" y="0" width="1" height="20" fill="#ffffff"/>
<use href="#grip" x="930" y="0.5"/>
<!-- timeframes -->
<rect x="1076" y="0" width="25" height="18" fill="url(#hatch)"/><rect x="1076" y="0" width="1" height="18" fill="#808080"/>
<g font-size="10" fill="#333">
<text x="941" y="11.8">M1</text><text x="969" y="11.8">M5</text><text x="995" y="11.8">M15</text><text x="1023" y="11.8">M30</text><text x="1054" y="11.8">H1</text><text x="1081.5" y="11.8">H4</text><text x="1110.5" y="11.8">D1</text><text x="1138" y="11.8">W1</text><text x="1164" y="11.8">MN</text>
</g>
<rect x="1187" y="0" width="1" height="20" fill="#a0a0a0"/><rect x="1188" y="0" width="1" height="20" fill="#ffffff"/>
<!-- search -->
<circle cx="1657.5" cy="5.5" r="4" fill="#f8fbff" stroke="#2060d0" stroke-width="1.6"/><path d="M1654.5 8.5 L1650 13" stroke="#2060d0" stroke-width="2.2" stroke-linecap="round"/>
<!-- chat -->
<path d="M1675 9 a6 4.5 0 1 1 5 4.2 l-3 3 l0.3 -3.4 a6 4.5 0 0 1 -2.3 -3.8 Z" fill="#f4f4f4" stroke="#b0b0b0" stroke-width="1"/>
<circle cx="1687.5" cy="6" r="8" fill="#e03020"/><text x="1687.5" y="10" font-size="11" fill="#fff" text-anchor="middle">1</text>
</svg>
<svg width="14" height="6" style="position:absolute;left:1415px;top:25px"><path d="M1 0 H12 L6.5 5 Z" fill="#c0c0c0"/></svg>
<div id="oct" style="position:absolute;left:0;top:44px;width:218px;height:57px;font-family:'Liberation Sans',sans-serif;">
 <div style="position:absolute;left:0;top:0;width:51px;height:24px;background:linear-gradient(#5a5afa,#3c3cf0);"></div>
 <div style="position:absolute;left:166px;top:0;width:52px;height:24px;background:linear-gradient(#5a5afa,#3c3cf0);"></div>
 <div style="position:absolute;left:0;top:24px;width:108px;height:33px;background:linear-gradient(#3a3af0,#1010b8);"></div>
 <div style="position:absolute;left:110px;top:24px;width:108px;height:33px;background:linear-gradient(#3a3af0,#1010b8);"></div>
 <div style="position:absolute;left:3px;top:24px;width:44px;height:1px;background:#9a9af8;"></div>
 <div style="position:absolute;left:170px;top:24px;width:44px;height:1px;background:#9a9af8;"></div>
 <div style="position:absolute;left:11px;top:5px;font-size:11.3px;line-height:14px;color:#f0f0ff;transform:scaleX(0.92);transform-origin:0 0;">SELL</div>
 <div style="position:absolute;left:179px;top:5px;font-size:11.3px;line-height:14px;color:#f0f0ff;">BUY</div>
 <div style="position:absolute;left:53px;top:0;width:111px;height:22px;background:#fff;border:1px solid #b0b0b0;border-bottom-color:#d0d0d0;box-sizing:border-box;"></div>
 <div style="position:absolute;left:54px;top:1px;width:20px;height:20px;background:linear-gradient(#f4f4f4,#d8d8d8);border:1px solid #c0c0c0;box-sizing:border-box;"></div>
 <div style="position:absolute;left:143px;top:1px;width:20px;height:20px;background:linear-gradient(#f4f4f4,#d8d8d8);border:1px solid #c0c0c0;box-sizing:border-box;"></div>
 <svg style="position:absolute;left:60px;top:8px" width="8" height="5"><path d="M1 1 H7 L4 4 Z" fill="#5060c0"/></svg>
 <svg style="position:absolute;left:149px;top:8px" width="8" height="5"><path d="M1 4 H7 L4 1 Z" fill="#5060c0"/></svg>
 <div style="position:absolute;left:76px;top:3.8px;width:62.5px;text-align:right;font-size:11.9px;line-height:14px;color:#000;">1.00</div>
 <div style="position:absolute;left:22px;top:41.2px;font-size:12px;line-height:12px;font-weight:bold;color:#fff;">151</div>
 <div style="position:absolute;left:46.5px;top:21.3px;font-size:33.2px;line-height:36px;color:#fff;transform:scaleX(0.935);transform-origin:0 0;">28</div>
 <div style="position:absolute;left:86.3px;top:25.5px;font-size:12px;line-height:12px;font-weight:bold;color:#fff;">8</div>
 <div style="position:absolute;left:132.2px;top:41.2px;font-size:12px;line-height:12px;font-weight:bold;color:#fff;">151</div>
 <div style="position:absolute;left:158px;top:21.3px;font-size:33.2px;line-height:36px;color:#fff;transform:scaleX(0.935);transform-origin:0 0;">36</div>
 <div style="position:absolute;left:197px;top:25.5px;font-size:12px;line-height:12px;font-weight:bold;color:#fff;">4</div>
</div>

</body></html>
